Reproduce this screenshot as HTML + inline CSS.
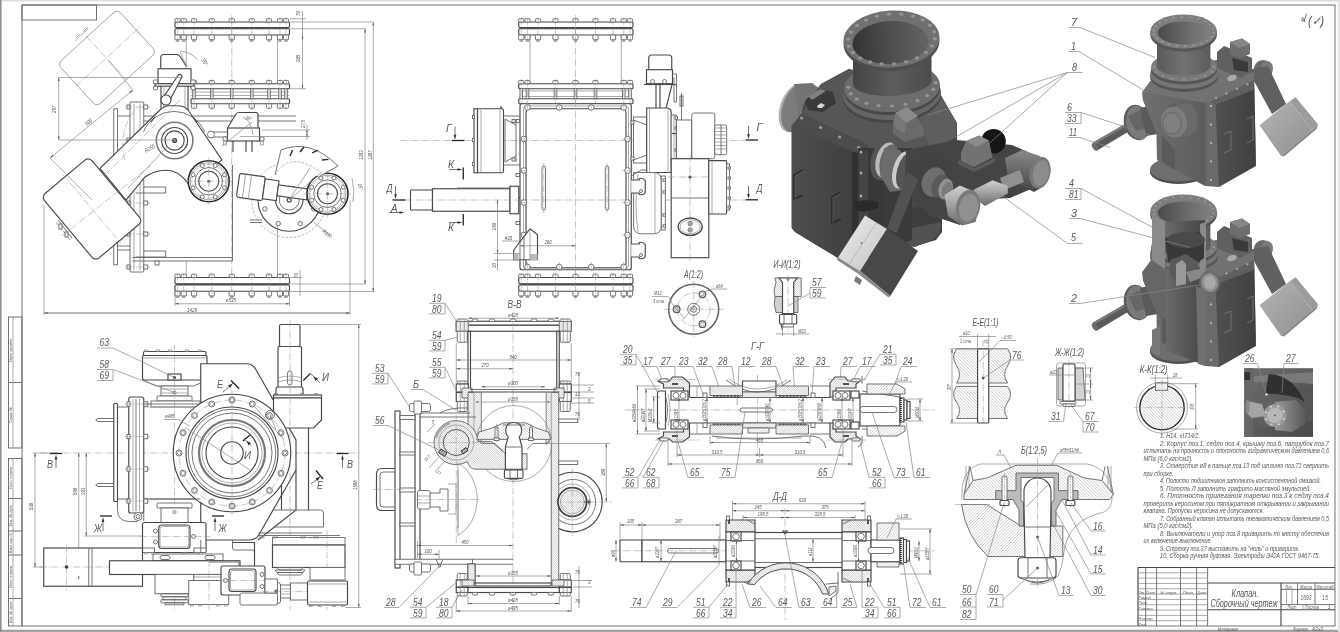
<!DOCTYPE html>
<html lang="ru"><head><meta charset="utf-8"><title>Клапан. Сборочный чертеж</title>
<style>
html,body{margin:0;padding:0;background:#fff}
svg{display:block;will-change:transform}
.k{stroke:#484848;stroke-width:1.15;fill:none}
.m{stroke:#646464;stroke-width:.9;fill:none}
.t{stroke:#868686;stroke-width:.7;fill:none}
.c{stroke:#969696;stroke-width:.55;fill:none;stroke-dasharray:7 1.5 1 1.5}
.d{stroke:#8a8a8a;stroke-width:.6;fill:none;stroke-dasharray:2.5 1.5}
.kw{stroke:#484848;stroke-width:1.15;fill:#fff}
.mw{stroke:#646464;stroke-width:.9;fill:#fff}
.tw{stroke:#868686;stroke-width:.7;fill:#fff}
.kh{stroke:#484848;stroke-width:1.15}
.mh{stroke:#646464;stroke-width:.9}
.th{stroke:#868686;stroke-width:.7}
.nh{stroke:none}
.tx{font-family:"Liberation Sans",sans-serif;font-style:italic;fill:#585858}
.tn{font-family:"Liberation Sans",sans-serif;font-style:italic;fill:#555}
.ts{font-family:"Liberation Sans",sans-serif;font-style:italic;fill:#555}
</style></head>
<body>
<svg width="1340" height="632" viewBox="0 0 1340 632">
<defs>
<pattern id="h1" width="2.2" height="2.2" patternUnits="userSpaceOnUse" patternTransform="rotate(45)"><rect width="2.2" height="2.2" fill="#fff"/><path d="M0 0H2.2" stroke="#888" stroke-width=".6"/></pattern>
<pattern id="h2" width="2.2" height="2.2" patternUnits="userSpaceOnUse" patternTransform="rotate(-45)"><rect width="2.2" height="2.2" fill="#fff"/><path d="M0 0H2.2" stroke="#888" stroke-width=".6"/></pattern>
<pattern id="h3" width="1.6" height="1.6" patternUnits="userSpaceOnUse" patternTransform="rotate(45)"><rect width="1.6" height="1.6" fill="#fff"/><path d="M0 0H1.6" stroke="#888" stroke-width=".6"/></pattern>
<pattern id="h4" width="1.6" height="1.6" patternUnits="userSpaceOnUse" patternTransform="rotate(-45)"><rect width="1.6" height="1.6" fill="#fff"/><path d="M0 0H1.6" stroke="#888" stroke-width=".6"/></pattern>
</defs>
<rect width="1340" height="632" fill="#fff"/>
<g id="p01_frame">
<rect x="0" y="0" width="1340" height="1.5" fill="#ddd"/>
<rect x="0" y="629.7" width="1340" height="2.3" fill="#a4a4a4"/>
<rect x="0" y="0" width="1.6" height="632" fill="#909090"/>
<rect x="1338" y="0" width="2" height="632" fill="#e4e4e4"/>
<rect class="m" x="22" y="5" width="1313" height="621"/>
<rect class="m" x="22" y="5" width="74.5" height="15"/>
<path class="k" d="M1138 567.5L1335 567.5"/>
<path class="k" d="M1138 567.5L1138 626"/>
<path class="m" d="M1145.7 567.5L1145.7 626"/>
<path class="m" d="M1156.6 567.5L1156.6 626"/>
<path class="m" d="M1180.5 567.5L1180.5 626"/>
<path class="m" d="M1196.6 567.5L1196.6 626"/>
<path class="m" d="M1207.6 567.5L1207.6 626"/>
<path class="t" d="M1138 572.82L1207.6 572.82"/>
<path class="t" d="M1138 578.14L1207.6 578.14"/>
<path class="t" d="M1138 583.46L1207.6 583.46"/>
<path class="t" d="M1138 588.78L1207.6 588.78"/>
<path class="t" d="M1138 594.1L1207.6 594.1"/>
<path class="t" d="M1138 599.42L1207.6 599.42"/>
<path class="t" d="M1138 604.74L1207.6 604.74"/>
<path class="t" d="M1138 610.06L1207.6 610.06"/>
<path class="t" d="M1138 615.38L1207.6 615.38"/>
<path class="t" d="M1138 620.7L1207.6 620.7"/>
<path class="k" d="M1207.6 583L1335 583"/>
<path class="k" d="M1207.6 609.7L1335 609.7"/>
<path class="k" d="M1281 583L1281 626"/>
<path class="m" d="M1281 589.4L1335 589.4"/>
<path class="m" d="M1281 604.6L1335 604.6"/>
<path class="m" d="M1297.6 583L1297.6 604.6"/>
<path class="m" d="M1315 583L1315 604.6"/>
<path class="t" d="M1286.5 589.4L1286.5 604.6"/>
<path class="t" d="M1292 589.4L1292 604.6"/>
<path class="t" d="M1303 604.6L1303 609.7"/>
<text class="tn" x="1245" y="597" font-size="10.5" text-anchor="middle" textLength="27" lengthAdjust="spacingAndGlyphs">Клапан.</text>
<text class="tn" x="1244" y="607" font-size="10.5" text-anchor="middle" textLength="67" lengthAdjust="spacingAndGlyphs">Сборочный чертеж</text>
<text class="ts" x="1289" y="588.5" font-size="4.5" text-anchor="middle" textLength="8" lengthAdjust="spacingAndGlyphs">Лит.</text>
<text class="ts" x="1306" y="588.5" font-size="4.5" text-anchor="middle" textLength="12" lengthAdjust="spacingAndGlyphs">Масса</text>
<text class="ts" x="1325" y="588.5" font-size="4.5" text-anchor="middle" textLength="17" lengthAdjust="spacingAndGlyphs">Масштаб</text>
<text class="tx" x="1306" y="600" font-size="6.5" text-anchor="middle" textLength="11" lengthAdjust="spacingAndGlyphs">1693</text>
<text class="tx" x="1325" y="600" font-size="6.5" text-anchor="middle" textLength="6" lengthAdjust="spacingAndGlyphs">1:5</text>
<text class="ts" x="1292" y="609" font-size="4.5" text-anchor="middle" textLength="9" lengthAdjust="spacingAndGlyphs">Лист</text>
<text class="ts" x="1312" y="609" font-size="4.5" text-anchor="middle" textLength="14" lengthAdjust="spacingAndGlyphs">Листов</text>
<text class="ts" x="1329" y="609" font-size="6.08" text-anchor="middle" textLength="2.7" lengthAdjust="spacingAndGlyphs">1</text>
<text class="ts" x="1138.5" y="593.5" font-size="4" textLength="6.5" lengthAdjust="spacingAndGlyphs">Изм.</text>
<text class="ts" x="1146" y="593.5" font-size="4" textLength="9" lengthAdjust="spacingAndGlyphs">Лист</text>
<text class="ts" x="1160" y="593.5" font-size="4" textLength="17" lengthAdjust="spacingAndGlyphs">№ докум.</text>
<text class="ts" x="1183" y="593.5" font-size="4" textLength="11" lengthAdjust="spacingAndGlyphs">Подп.</text>
<text class="ts" x="1197.5" y="593.5" font-size="4" textLength="9" lengthAdjust="spacingAndGlyphs">Дата</text>
<text class="ts" x="1138.5" y="599" font-size="4" textLength="13" lengthAdjust="spacingAndGlyphs">Разраб.</text>
<text class="ts" x="1138.5" y="604.3" font-size="4" textLength="9" lengthAdjust="spacingAndGlyphs">Пров.</text>
<text class="ts" x="1138.5" y="609.6" font-size="4" textLength="15" lengthAdjust="spacingAndGlyphs">Т.контр.</text>
<text class="ts" x="1138.5" y="620.2" font-size="4" textLength="15" lengthAdjust="spacingAndGlyphs">Н.контр.</text>
<text class="ts" x="1138.5" y="625.5" font-size="4" textLength="8" lengthAdjust="spacingAndGlyphs">Утв.</text>
<text class="ts" x="1218" y="631" font-size="4.5" textLength="20" lengthAdjust="spacingAndGlyphs">Копировал</text>
<text class="ts" x="1293" y="631" font-size="4.5" textLength="15" lengthAdjust="spacingAndGlyphs">Формат</text>
<text class="ts" x="1312" y="631" font-size="4.5" textLength="11" lengthAdjust="spacingAndGlyphs">А2х3</text>
<rect class="m" x="8.5" y="317" width="13.5" height="131"/>
<path class="t" d="M13 317L13 448"/>
<path class="m" d="M8.5 382.5L22 382.5"/>
<rect class="m" x="8.5" y="458.5" width="13.5" height="167.5"/>
<path class="t" d="M13 458.5L13 626"/>
<path class="m" d="M8.5 498.5L22 498.5"/>
<path class="m" d="M8.5 531L22 531"/>
<path class="m" d="M8.5 555L22 555"/>
<path class="m" d="M8.5 598.5L22 598.5"/>
<text class="ts" x="12" y="350" font-size="4" text-anchor="middle" transform="rotate(-90 12 350)" textLength="24" lengthAdjust="spacingAndGlyphs">Перв. примен.</text>
<text class="ts" x="12" y="415" font-size="4" text-anchor="middle" transform="rotate(-90 12 415)" textLength="16" lengthAdjust="spacingAndGlyphs">Справ. №</text>
<text class="ts" x="12" y="478" font-size="4" text-anchor="middle" transform="rotate(-90 12 478)" textLength="22" lengthAdjust="spacingAndGlyphs">Подп. и дата</text>
<text class="ts" x="12" y="515" font-size="4" text-anchor="middle" transform="rotate(-90 12 515)" textLength="22" lengthAdjust="spacingAndGlyphs">Инв. № дубл.</text>
<text class="ts" x="12" y="543" font-size="4" text-anchor="middle" transform="rotate(-90 12 543)" textLength="20" lengthAdjust="spacingAndGlyphs">Взам. инв. №</text>
<text class="ts" x="12" y="577" font-size="4" text-anchor="middle" transform="rotate(-90 12 577)" textLength="22" lengthAdjust="spacingAndGlyphs">Подп. и дата</text>
<text class="ts" x="12" y="612" font-size="4" text-anchor="middle" transform="rotate(-90 12 612)" textLength="22" lengthAdjust="spacingAndGlyphs">Инв. № подл.</text>
</g>
<g id="p10_isobig">
<defs>
<linearGradient id="gb" x1="0" x2="1" y1="0" y2="0"><stop offset="0" stop-color="#333"/><stop offset=".5" stop-color="#4e4e4e"/><stop offset="1" stop-color="#646464"/></linearGradient>
<linearGradient id="gp" x1="0" x2="1" y1="0" y2="0"><stop offset="0" stop-color="#444"/><stop offset=".5" stop-color="#5c5c5c"/><stop offset="1" stop-color="#4c4c4c"/></linearGradient>
<linearGradient id="gcv" x1="0" x2="1" y1="0" y2="0"><stop offset="0" stop-color="#4e4e4e"/><stop offset="1" stop-color="#3e3e3e"/></linearGradient>
<linearGradient id="gw" x1="0" x2="1" y1="0" y2="1"><stop offset="0" stop-color="#ececec"/><stop offset="1" stop-color="#c4c4c4"/></linearGradient>
<linearGradient id="gl" x1="0" x2="0" y1="0" y2="1"><stop offset="0" stop-color="#d0d0d0"/><stop offset=".5" stop-color="#a0a0a0"/><stop offset="1" stop-color="#6a6a6a"/></linearGradient>
<linearGradient id="gd" x1="0" x2="0" y1="0" y2="1"><stop offset="0" stop-color="#8a8a8a"/><stop offset=".5" stop-color="#666"/><stop offset="1" stop-color="#444"/></linearGradient>
</defs>
<ellipse class="n" cx="794" cy="108" rx="14" ry="25" transform="rotate(18 794 108)" fill="#b0b0b0"/>
<ellipse class="n" cx="796.5" cy="108" rx="14" ry="25" transform="rotate(18 796.5 108)" fill="#7c7c7c"/>
<path d="M794 84L812 83L830 96L832 116L808 134L800 133Z" fill="#747474"/>
<ellipse class="n" cx="816" cy="109" rx="13" ry="19" transform="rotate(22 816 109)" fill="#4a4a4a"/>
<ellipse class="n" cx="821" cy="111" rx="10" ry="13" transform="rotate(22 821 111)" fill="#2e2e2e"/>
<path d="M817 109L823 105L829 107L824 113L819 114Z" fill="#ddd"/>
<path d="M890 200L942 195L942 232L936 240L915 246L900 244L890 236Z" fill="#3e3e3e"/>
<ellipse class="n" cx="917" cy="236" rx="24" ry="9" transform="rotate(-12 917 236)" fill="#4a4a4a"/>
<path d="M893 232L941 222L941 228L932 240L915 247L900 245L893 238Z" fill="#525252"/>
<path d="M941 96L957 123L957 200L900 210L880 150Z" fill="#464646"/>
<path d="M820.6 84L849 68.7L941 95.6L956.7 123.3L956 137L930 152L865 148.6L792 126.5L801.6 113.8Z" fill="#565656"/>
<path d="M941 95.6L956.7 123.3L956 137L930 150L920 118Z" fill="#5e5e5e"/>
<path d="M805 101L819 89L833 92L836 103L823 112L808 110Z" fill="#3a3a3a"/>
<path d="M808 96L820 89L826 91L812 100Z" fill="#808080"/>
<path d="M817 106L821 103L825 105L822 108L818 108Z" fill="#d8d8d8"/>
<path d="M791.5 126L801.6 113.5L868.5 145L868 240L858 262L838 258L795 232L791.5 228Z" fill="#484848"/>
<path d="M792 126.5L801.6 113.8L868 145.4L858.6 153.4Z" fill="#4c4c4c"/>
<ellipse class="n" cx="801.6" cy="118" rx="1.7" ry="1.5" fill="#999"/>
<ellipse class="n" cx="820.6" cy="127.5" rx="1.7" ry="1.5" fill="#999"/>
<ellipse class="n" cx="839.6" cy="137" rx="1.7" ry="1.5" fill="#999"/>
<ellipse class="n" cx="858.6" cy="147.5" rx="1.7" ry="1.5" fill="#999"/>
<path d="M858 148L912 148L912 240L858 262Z" fill="#3a3a3a"/>
<path d="M792 126.5L858.6 153.4L858 262L838 258L795 232L792 228Z" fill="url(#gcv)"/>
<path d="M852 152L858.6 153L858.6 262L852 258Z" fill="#303030"/>
<path d="M858.6 153L868 150L868 240L858.6 262Z" fill="#444"/>
<path d="M868 150L884 150L884 225L868 240Z" fill="#383838"/>
<ellipse class="n" cx="861" cy="152" rx="1.4" ry="1.6" fill="#aaa"/>
<ellipse class="n" cx="861" cy="173" rx="1.4" ry="1.6" fill="#aaa"/>
<ellipse class="n" cx="861" cy="196" rx="1.4" ry="1.6" fill="#aaa"/>
<path class="n" d="M803 170l-9 5v24l9 -4" fill="none" stroke="#2c2c2c" stroke-width="1.8"/>
<path class="n" d="M804 171l-9 5v24" fill="none" stroke="#666" stroke-width=".6"/>
<path class="n" d="M841 192l-9 5v26l9 -4" fill="none" stroke="#2c2c2c" stroke-width="1.8"/>
<path class="n" d="M842 193l-9 5v26" fill="none" stroke="#666" stroke-width=".6"/>
<path d="M854 202L866 200L878 202L878 208L864 212L854 210Z" fill="#2a2a2a"/>
<ellipse class="n" cx="892" cy="97" rx="49" ry="26" transform="rotate(-3 892 97)" fill="#484848"/>
<ellipse class="n" cx="892" cy="94" rx="49" ry="26" transform="rotate(-3 892 94)" fill="#666"/>
<ellipse class="n" cx="892" cy="90" rx="48" ry="25" transform="rotate(-3 892 90)" fill="#484848"/>
<ellipse class="n" cx="892" cy="87" rx="48" ry="25" transform="rotate(-3 892 87)" fill="#6c6c6c"/>
<path class="n" d="M853 44L853 84A39.5 14 -3 0 0 931.5 82L931.5 40Z" fill="url(#gp)"/>
<ellipse class="n" cx="891.5" cy="42.5" rx="48" ry="28.5" transform="rotate(-3 891.5 42.5)" fill="#4e4e4e"/>
<ellipse class="n" cx="891.5" cy="39" rx="48" ry="28.5" transform="rotate(-3 891.5 39)" fill="#707070"/>
<ellipse class="n" cx="890.5" cy="42.5" rx="38" ry="21.5" transform="rotate(-3 890.5 42.5)" fill="url(#gb)"/>
<ellipse class="n" cx="934.834" cy="38.8876" rx="2.1" ry="1.6" fill="#959595"/>
<ellipse class="n" cx="932.011" cy="45.9652" rx="2.1" ry="1.6" fill="#959595"/>
<ellipse class="n" cx="925.906" cy="52.4784" rx="2.1" ry="1.6" fill="#959595"/>
<ellipse class="n" cx="917.013" cy="57.8998" rx="2.1" ry="1.6" fill="#959595"/>
<ellipse class="n" cx="906.053" cy="61.7899" rx="2.1" ry="1.6" fill="#959595"/>
<ellipse class="n" cx="893.914" cy="63.8338" rx="2.1" ry="1.6" fill="#959595"/>
<ellipse class="n" cx="881.58" cy="63.8658" rx="2.1" ry="1.6" fill="#959595"/>
<ellipse class="n" cx="870.05" cy="61.8833" rx="2.1" ry="1.6" fill="#959595"/>
<ellipse class="n" cx="860.257" cy="58.0469" rx="2.1" ry="1.6" fill="#959595"/>
<ellipse class="n" cx="852.995" cy="52.6675" rx="2.1" ry="1.6" fill="#959595"/>
<ellipse class="n" cx="848.853" cy="46.1808" rx="2.1" ry="1.6" fill="#959595"/>
<ellipse class="n" cx="848.166" cy="39.1124" rx="2.1" ry="1.6" fill="#959595"/>
<ellipse class="n" cx="850.989" cy="32.0348" rx="2.1" ry="1.6" fill="#959595"/>
<ellipse class="n" cx="857.094" cy="25.5216" rx="2.1" ry="1.6" fill="#959595"/>
<ellipse class="n" cx="865.987" cy="20.1002" rx="2.1" ry="1.6" fill="#959595"/>
<ellipse class="n" cx="876.947" cy="16.2101" rx="2.1" ry="1.6" fill="#959595"/>
<ellipse class="n" cx="889.086" cy="14.1662" rx="2.1" ry="1.6" fill="#959595"/>
<ellipse class="n" cx="901.42" cy="14.1342" rx="2.1" ry="1.6" fill="#959595"/>
<ellipse class="n" cx="912.95" cy="16.1167" rx="2.1" ry="1.6" fill="#959595"/>
<ellipse class="n" cx="922.743" cy="19.9531" rx="2.1" ry="1.6" fill="#959595"/>
<ellipse class="n" cx="930.005" cy="25.3325" rx="2.1" ry="1.6" fill="#959595"/>
<ellipse class="n" cx="934.147" cy="31.8192" rx="2.1" ry="1.6" fill="#959595"/>
<ellipse class="n" cx="935.5" cy="82.7" rx="2.1" ry="1.6" fill="#959595"/>
<ellipse class="n" cx="933.371" cy="89.3019" rx="2.1" ry="1.6" fill="#959595"/>
<ellipse class="n" cx="927.192" cy="95.4828" rx="2.1" ry="1.6" fill="#959595"/>
<ellipse class="n" cx="917.569" cy="100.637" rx="2.1" ry="1.6" fill="#959595"/>
<ellipse class="n" cx="905.442" cy="104.261" rx="2.1" ry="1.6" fill="#959595"/>
<ellipse class="n" cx="892" cy="106" rx="2.1" ry="1.6" fill="#959595"/>
<ellipse class="n" cx="878.558" cy="105.683" rx="2.1" ry="1.6" fill="#959595"/>
<ellipse class="n" cx="866.431" cy="103.341" rx="2.1" ry="1.6" fill="#959595"/>
<ellipse class="n" cx="856.808" cy="99.2042" rx="2.1" ry="1.6" fill="#959595"/>
<ellipse class="n" cx="850.629" cy="93.6768" rx="2.1" ry="1.6" fill="#959595"/>
<ellipse class="n" cx="848.5" cy="87.3" rx="2.1" ry="1.6" fill="#959595"/>
<path d="M893 118L906 108L916 116L924 128L924 136L905 142L893 134Z" fill="#6a6a6a"/>
<path d="M895 113L907 107L918 116L906 123Z" fill="#8a8a8a"/>
<path d="M895 113L906 123L905 134L894 127Z" fill="#777"/>
<ellipse class="n" cx="884" cy="160" rx="13" ry="21" transform="rotate(15 884 160)" fill="#555"/>
<ellipse class="n" cx="886" cy="160" rx="10" ry="18" transform="rotate(15 886 160)" fill="#bbb"/>
<ellipse class="n" cx="889" cy="161" rx="9" ry="17" transform="rotate(15 889 161)" fill="#666"/>
<path d="M884 148L900 150L906 160L904 190L890 192L880 175Z" fill="#6c6c6c"/>
<ellipse class="n" cx="902" cy="170" rx="9" ry="19" transform="rotate(15 902 170)" fill="#ccc"/>
<ellipse class="n" cx="905" cy="171" rx="8" ry="18" transform="rotate(15 905 171)" fill="#555"/>
<path d="M906 150L956 140L1012 145L1028 152L1040 160L1040 185L1010 198L975 200L960 225L930 215L905 190Z" fill="#444"/>
<ellipse class="n" cx="993.5" cy="141.3" rx="12.3" ry="12.3" fill="#151515"/>
<path d="M966 141L979 135.6L988.8 140.4L992.6 157.5L973.6 167L961 161L961 152.7Z" fill="#727272"/>
<path d="M966 141L979 135.6L988.8 140.4L976 147Z" fill="#8c8c8c"/>
<path d="M958 160L974 168L995 158L995 162L974 172L958 164Z" fill="#5a5a5a"/>
<path d="M1005 158L1022 150L1040 156L1047 168L1044 186L1034 192L1020 185L1008 178Z" fill="url(#gd)"/>
<ellipse class="n" cx="1040" cy="172.7" rx="10.4" ry="16" transform="rotate(12 1040 172.7)" fill="#777"/>
<ellipse class="n" cx="1041" cy="173" rx="8" ry="13" transform="rotate(12 1041 173)" fill="#8c8c8c"/>
<path d="M1000 178L1020 170L1024 182L1004 190Z" fill="#909090"/>
<path d="M973.6 189.8L992.6 180.3L1007.8 186L1007.8 193.6L985 206L975.5 199Z" fill="url(#gl)"/>
<ellipse class="n" cx="931.4" cy="175" rx="21" ry="22" fill="#424242"/>
<ellipse class="n" cx="934" cy="182" rx="12" ry="15" transform="rotate(20 934 182)" fill="#6e6e6e"/>
<ellipse class="n" cx="940" cy="186" rx="8" ry="12" transform="rotate(20 940 186)" fill="#5a5a5a"/>
<ellipse class="n" cx="945.6" cy="189" rx="7" ry="10.7" transform="rotate(15 945.6 189)" fill="#929292"/>
<ellipse class="n" cx="947" cy="190" rx="5" ry="8" transform="rotate(15 947 190)" fill="#7a7a7a"/>
<path d="M907.6 172L918 180L896.6 233L887 228.6Z" fill="#525252"/>
<path d="M944.4 195L959.8 185.4L975 192L979 204L975.7 222L962 225.4L948 216Z" fill="url(#gl)"/>
<ellipse class="n" cx="968" cy="207" rx="12" ry="17.5" transform="rotate(12 968 207)" fill="#7a7a7a"/>
<ellipse class="n" cx="968.5" cy="207.5" rx="9.5" ry="14" transform="rotate(12 968.5 207.5)" fill="#909090"/>
<path d="M865 215.5L887 229L860 271L838 257.5Z" fill="url(#gw)"/>
<path d="M887 229L918 251L890.3 296L860 271Z" fill="#484848"/>
<path d="M838 257.5L860 271L890.3 296L888.5 297.5L858.5 274L837 260Z" fill="#8a8a8a"/>
<path class="n" d="M876.5 222.5L849 264.5"/>
<path d="M876.5 222.5L849 264.5" stroke="#999" stroke-width=".5"/>
<ellipse class="n" cx="861.5" cy="243" rx="0.8" ry="0.8" fill="#444"/>
<path d="M856 276L862 280L860 285L854 281Z" fill="#777"/>
</g>
<g id="p11_isosmall">
<defs>
<linearGradient id="sb" x1="0" x2="1" y1="0" y2="0"><stop offset="0" stop-color="#4a4a4a"/><stop offset=".6" stop-color="#6c6c6c"/><stop offset="1" stop-color="#808080"/></linearGradient>
<linearGradient id="sp" x1="0" x2="1" y1="0" y2="0"><stop offset="0" stop-color="#5a5a5a"/><stop offset=".5" stop-color="#727272"/><stop offset="1" stop-color="#5c5c5c"/></linearGradient>
<linearGradient id="sw" x1="0" x2="1" y1="0" y2="1"><stop offset="0" stop-color="#b4b4b4"/><stop offset="1" stop-color="#909090"/></linearGradient>
<linearGradient id="sc" x1="0" x2="1" y1="0" y2="0"><stop offset="0" stop-color="#505050"/><stop offset="1" stop-color="#404040"/></linearGradient>
<linearGradient id="sl" x1="0" x2="1" y1="0" y2="0"><stop offset="0" stop-color="#707070"/><stop offset="1" stop-color="#5c5c5c"/></linearGradient>
<linearGradient id="si" x1="0" x2="1" y1="0" y2="0"><stop offset="0" stop-color="#6a6a6a"/><stop offset="1" stop-color="#444"/></linearGradient>
</defs>
<g transform="translate(0 0)">
<ellipse class="n" cx="1263" cy="70" rx="9.5" ry="10" fill="#6a6a6a"/>
<ellipse class="n" cx="1267" cy="68" rx="6" ry="7" fill="#7a7a7a"/>
<path d="M1248 70L1268 66L1286 104L1272 114Z" fill="#606060"/>
<path d="M1259.5 125.2L1290 101L1312 130L1281 155.8Z" fill="url(#sw)"/>
<path d="M1290 101L1295.6 97.2L1318 124.3L1312 130Z" fill="#9c9c9c"/>
<path d="M1312 130L1318 124.3L1316.5 129L1284 156.5L1281 155.8Z" fill="#888"/>
<path d="M1093 142.5L1133 119.5L1137 126.5L1097 150.5Z" fill="#5a5a5a"/>
<path d="M1093 142.5L1133 119.5L1134 121.5L1094 144.5Z" fill="#7c7c7c"/>
<ellipse class="n" cx="1095" cy="146.8" rx="2.6" ry="4.4" transform="rotate(-30 1095 146.8)" fill="#6c6c6c"/>
<ellipse class="n" cx="1137" cy="122.5" rx="13" ry="18" transform="rotate(-12 1137 122.5)" fill="#5c5c5c"/>
<ellipse class="n" cx="1138.5" cy="122.5" rx="12" ry="17" transform="rotate(-12 1138.5 122.5)" fill="#7a7a7a"/>
<path d="M1128 116L1140 110L1146 118L1146 128L1136 132Z" fill="#666"/>
<path d="M1140 108L1158 104L1158 134L1146 136Z" fill="#5a5a5a"/>
<ellipse class="n" cx="1178.4" cy="172" rx="28.5" ry="12" fill="#505050"/>
<ellipse class="n" cx="1178.4" cy="169.5" rx="28.5" ry="12" fill="#6e6e6e"/>
<path d="M1142.3 92L1160 68L1217 60L1254 72L1256 166L1219 187L1205 186L1157 160L1156.7 133L1143 100Z" fill="#666"/>
<path d="M1142.3 92L1206 102L1206 186L1157 160L1156.7 133L1143 100Z" fill="url(#sl)"/>
<path d="M1162 135L1175 150L1175 170L1162 162Z" fill="#5a5a5a"/>
<path d="M1142.3 92L1160 69L1217 61L1254 72L1254 80.6L1208 103.5Z" fill="#727272"/>
<path d="M1207 103.5L1254 80L1254.5 90.5L1216 105L1205 104.5Z" fill="#606060"/>
<path d="M1205.4 100.8L1216 104.4L1219 186.5L1205.4 185.6Z" fill="#6a6a6a"/>
<path d="M1215.5 104.4L1254.3 89.8L1255.9 165.7L1219 186.5Z" fill="url(#sc)"/>
<path class="n" d="M1224 134l7 -3v19l-7 3" fill="none" stroke="#777" stroke-width=".9"/>
<path class="n" d="M1247 119l6 -3v24l-6 3" fill="none" stroke="#777" stroke-width=".9"/>
<ellipse class="n" cx="1211" cy="106" rx="1.1" ry="1.2" fill="#b0b0b0"/>
<ellipse class="n" cx="1211" cy="124.5" rx="1.1" ry="1.2" fill="#b0b0b0"/>
<ellipse class="n" cx="1211" cy="143" rx="1.1" ry="1.2" fill="#b0b0b0"/>
<ellipse class="n" cx="1211" cy="161.5" rx="1.1" ry="1.2" fill="#b0b0b0"/>
<ellipse class="n" cx="1211" cy="180" rx="1.1" ry="1.2" fill="#b0b0b0"/>
<ellipse class="n" cx="1216" cy="98" rx="1.1" ry="1" fill="#b0b0b0"/>
<ellipse class="n" cx="1226.5" cy="93.4" rx="1.1" ry="1" fill="#b0b0b0"/>
<ellipse class="n" cx="1237" cy="88.8" rx="1.1" ry="1" fill="#b0b0b0"/>
<ellipse class="n" cx="1247.5" cy="84.2" rx="1.1" ry="1" fill="#b0b0b0"/>
<path d="M1217 52L1224 46L1234 50L1252 58L1252 72L1240 78L1217 68Z" fill="#606060"/>
<path d="M1230 42L1242 38.5L1250 44L1250 54L1240 58L1230 54Z" fill="#6e6e6e"/>
<path d="M1230 42L1242 38.5L1250 44L1239 48Z" fill="#868686"/>
<path d="M1232 58L1248 62L1248 72L1234 70Z" fill="#3a3a3a"/>
<ellipse class="n" cx="1232" cy="78" rx="5" ry="3" transform="rotate(-20 1232 78)" fill="#aaa"/>
<ellipse class="n" cx="1184" cy="77" rx="34" ry="15" fill="#555"/>
<ellipse class="n" cx="1184" cy="74" rx="34" ry="15" fill="#757575"/>
<ellipse class="n" cx="1184" cy="70" rx="33" ry="14.5" fill="#555"/>
<ellipse class="n" cx="1184" cy="67" rx="33" ry="14.5" fill="#7a7a7a"/>
<path class="n" d="M1157 32V66A26.7 10 0 0 0 1210.4 66V32Z" fill="url(#sp)"/>
<ellipse class="n" cx="1183.6" cy="34.5" rx="33.4" ry="17" fill="#555"/>
<ellipse class="n" cx="1183.6" cy="31.5" rx="33.4" ry="17" fill="#7e7e7e"/>
<ellipse class="n" cx="1184" cy="32.9" rx="26.3" ry="11.5" fill="url(#sb)"/>
<ellipse class="n" cx="1213.49" cy="32.7725" rx="1.2" ry="0.9" fill="#9c9c9c"/>
<ellipse class="n" cx="1211.54" cy="36.8186" rx="1.2" ry="0.9" fill="#9c9c9c"/>
<ellipse class="n" cx="1207.33" cy="40.4338" rx="1.2" ry="0.9" fill="#9c9c9c"/>
<ellipse class="n" cx="1201.2" cy="43.3252" rx="1.2" ry="0.9" fill="#9c9c9c"/>
<ellipse class="n" cx="1193.64" cy="45.2587" rx="1.2" ry="0.9" fill="#9c9c9c"/>
<ellipse class="n" cx="1185.27" cy="46.0775" rx="1.2" ry="0.9" fill="#9c9c9c"/>
<ellipse class="n" cx="1176.76" cy="45.7153" rx="1.2" ry="0.9" fill="#9c9c9c"/>
<ellipse class="n" cx="1168.81" cy="44.2015" rx="1.2" ry="0.9" fill="#9c9c9c"/>
<ellipse class="n" cx="1162.05" cy="41.6587" rx="1.2" ry="0.9" fill="#9c9c9c"/>
<ellipse class="n" cx="1157.04" cy="38.2928" rx="1.2" ry="0.9" fill="#9c9c9c"/>
<ellipse class="n" cx="1154.19" cy="34.3767" rx="1.2" ry="0.9" fill="#9c9c9c"/>
<ellipse class="n" cx="1153.71" cy="30.2275" rx="1.2" ry="0.9" fill="#9c9c9c"/>
<ellipse class="n" cx="1155.66" cy="26.1814" rx="1.2" ry="0.9" fill="#9c9c9c"/>
<ellipse class="n" cx="1159.87" cy="22.5662" rx="1.2" ry="0.9" fill="#9c9c9c"/>
<ellipse class="n" cx="1166" cy="19.6748" rx="1.2" ry="0.9" fill="#9c9c9c"/>
<ellipse class="n" cx="1173.56" cy="17.7413" rx="1.2" ry="0.9" fill="#9c9c9c"/>
<ellipse class="n" cx="1181.93" cy="16.9225" rx="1.2" ry="0.9" fill="#9c9c9c"/>
<ellipse class="n" cx="1190.44" cy="17.2847" rx="1.2" ry="0.9" fill="#9c9c9c"/>
<ellipse class="n" cx="1198.39" cy="18.7985" rx="1.2" ry="0.9" fill="#9c9c9c"/>
<ellipse class="n" cx="1205.15" cy="21.3413" rx="1.2" ry="0.9" fill="#9c9c9c"/>
<ellipse class="n" cx="1210.16" cy="24.7072" rx="1.2" ry="0.9" fill="#9c9c9c"/>
<ellipse class="n" cx="1213.01" cy="28.6233" rx="1.2" ry="0.9" fill="#9c9c9c"/>
<ellipse class="n" cx="1214" cy="67" rx="1.2" ry="0.9" fill="#9c9c9c"/>
<ellipse class="n" cx="1211.72" cy="71.7835" rx="1.2" ry="0.9" fill="#9c9c9c"/>
<ellipse class="n" cx="1205.21" cy="75.8388" rx="1.2" ry="0.9" fill="#9c9c9c"/>
<ellipse class="n" cx="1195.48" cy="78.5485" rx="1.2" ry="0.9" fill="#9c9c9c"/>
<ellipse class="n" cx="1184" cy="79.5" rx="1.2" ry="0.9" fill="#9c9c9c"/>
<ellipse class="n" cx="1172.52" cy="78.5485" rx="1.2" ry="0.9" fill="#9c9c9c"/>
<ellipse class="n" cx="1162.79" cy="75.8388" rx="1.2" ry="0.9" fill="#9c9c9c"/>
<ellipse class="n" cx="1156.28" cy="71.7835" rx="1.2" ry="0.9" fill="#9c9c9c"/>
<ellipse class="n" cx="1154" cy="67" rx="1.2" ry="0.9" fill="#9c9c9c"/>
<ellipse class="n" cx="1176" cy="121" rx="14" ry="16.5" transform="rotate(-10 1176 121)" fill="#5c5c5c"/>
<path d="M1176 105L1190 103L1197 112L1197 130L1188 137L1176 137Z" fill="#6a6a6a"/>
<ellipse class="n" cx="1174" cy="122" rx="13" ry="15.5" transform="rotate(-10 1174 122)" fill="#7c7c7c"/>
<ellipse class="n" cx="1172" cy="123.4" rx="10" ry="11.5" transform="rotate(-10 1172 123.4)" fill="#6e6e6e"/>
<ellipse class="n" cx="1172" cy="123.4" rx="8.5" ry="10" transform="rotate(-10 1172 123.4)" fill="#808080"/>
</g>
<g transform="translate(0 180)">
<ellipse class="n" cx="1263" cy="70" rx="9.5" ry="10" fill="#6a6a6a"/>
<ellipse class="n" cx="1267" cy="68" rx="6" ry="7" fill="#7a7a7a"/>
<path d="M1248 70L1268 66L1286 104L1272 114Z" fill="#606060"/>
<path d="M1259.5 125.2L1290 101L1312 130L1281 155.8Z" fill="url(#sw)"/>
<path d="M1290 101L1295.6 97.2L1318 124.3L1312 130Z" fill="#9c9c9c"/>
<path d="M1312 130L1318 124.3L1316.5 129L1284 156.5L1281 155.8Z" fill="#888"/>
<path d="M1093 142.5L1133 119.5L1137 126.5L1097 150.5Z" fill="#5a5a5a"/>
<path d="M1093 142.5L1133 119.5L1134 121.5L1094 144.5Z" fill="#7c7c7c"/>
<ellipse class="n" cx="1095" cy="146.8" rx="2.6" ry="4.4" transform="rotate(-30 1095 146.8)" fill="#6c6c6c"/>
<ellipse class="n" cx="1137" cy="122.5" rx="13" ry="18" transform="rotate(-12 1137 122.5)" fill="#5c5c5c"/>
<ellipse class="n" cx="1138.5" cy="122.5" rx="12" ry="17" transform="rotate(-12 1138.5 122.5)" fill="#7a7a7a"/>
<path d="M1128 116L1140 110L1146 118L1146 128L1136 132Z" fill="#666"/>
<path d="M1140 108L1158 104L1158 134L1146 136Z" fill="#5a5a5a"/>
<ellipse class="n" cx="1178.4" cy="172" rx="28.5" ry="12" fill="#505050"/>
<ellipse class="n" cx="1178.4" cy="169.5" rx="28.5" ry="12" fill="#6e6e6e"/>
<path d="M1142.3 92L1160 68L1217 60L1254 72L1256 166L1219 187L1205 186L1157 160L1156.7 133L1143 100Z" fill="#666"/>
<path d="M1142.3 92L1206 102L1206 186L1157 160L1156.7 133L1143 100Z" fill="url(#sl)"/>
<path d="M1162 135L1175 150L1175 170L1162 162Z" fill="#5a5a5a"/>
<path d="M1142.3 92L1160 69L1217 61L1254 72L1254 80.6L1208 103.5Z" fill="#727272"/>
<path d="M1207 103.5L1254 80L1254.5 90.5L1216 105L1205 104.5Z" fill="#606060"/>
<path d="M1205.4 100.8L1216 104.4L1219 186.5L1205.4 185.6Z" fill="#6a6a6a"/>
<path d="M1215.5 104.4L1254.3 89.8L1255.9 165.7L1219 186.5Z" fill="url(#sc)"/>
<path class="n" d="M1224 134l7 -3v19l-7 3" fill="none" stroke="#777" stroke-width=".9"/>
<path class="n" d="M1247 119l6 -3v24l-6 3" fill="none" stroke="#777" stroke-width=".9"/>
<ellipse class="n" cx="1211" cy="106" rx="1.1" ry="1.2" fill="#b0b0b0"/>
<ellipse class="n" cx="1211" cy="124.5" rx="1.1" ry="1.2" fill="#b0b0b0"/>
<ellipse class="n" cx="1211" cy="143" rx="1.1" ry="1.2" fill="#b0b0b0"/>
<ellipse class="n" cx="1211" cy="161.5" rx="1.1" ry="1.2" fill="#b0b0b0"/>
<ellipse class="n" cx="1211" cy="180" rx="1.1" ry="1.2" fill="#b0b0b0"/>
<ellipse class="n" cx="1216" cy="98" rx="1.1" ry="1" fill="#b0b0b0"/>
<ellipse class="n" cx="1226.5" cy="93.4" rx="1.1" ry="1" fill="#b0b0b0"/>
<ellipse class="n" cx="1237" cy="88.8" rx="1.1" ry="1" fill="#b0b0b0"/>
<ellipse class="n" cx="1247.5" cy="84.2" rx="1.1" ry="1" fill="#b0b0b0"/>
<path d="M1217 52L1224 46L1234 50L1252 58L1252 72L1240 78L1217 68Z" fill="#606060"/>
<path d="M1230 42L1242 38.5L1250 44L1250 54L1240 58L1230 54Z" fill="#6e6e6e"/>
<path d="M1230 42L1242 38.5L1250 44L1239 48Z" fill="#868686"/>
<path d="M1232 58L1248 62L1248 72L1234 70Z" fill="#3a3a3a"/>
<ellipse class="n" cx="1232" cy="78" rx="5" ry="3" transform="rotate(-20 1232 78)" fill="#aaa"/>
<ellipse class="n" cx="1184" cy="77" rx="34" ry="15" fill="#555"/>
<ellipse class="n" cx="1184" cy="74" rx="34" ry="15" fill="#757575"/>
<ellipse class="n" cx="1184" cy="70" rx="33" ry="14.5" fill="#555"/>
<ellipse class="n" cx="1184" cy="67" rx="33" ry="14.5" fill="#7a7a7a"/>
<path class="n" d="M1157 32V66A26.7 10 0 0 0 1210.4 66V32Z" fill="url(#sp)"/>
<ellipse class="n" cx="1183.6" cy="34.5" rx="33.4" ry="17" fill="#555"/>
<ellipse class="n" cx="1183.6" cy="31.5" rx="33.4" ry="17" fill="#7e7e7e"/>
<ellipse class="n" cx="1184" cy="32.9" rx="26.3" ry="11.5" fill="url(#sb)"/>
<ellipse class="n" cx="1213.49" cy="32.7725" rx="1.2" ry="0.9" fill="#9c9c9c"/>
<ellipse class="n" cx="1211.54" cy="36.8186" rx="1.2" ry="0.9" fill="#9c9c9c"/>
<ellipse class="n" cx="1207.33" cy="40.4338" rx="1.2" ry="0.9" fill="#9c9c9c"/>
<ellipse class="n" cx="1201.2" cy="43.3252" rx="1.2" ry="0.9" fill="#9c9c9c"/>
<ellipse class="n" cx="1193.64" cy="45.2587" rx="1.2" ry="0.9" fill="#9c9c9c"/>
<ellipse class="n" cx="1185.27" cy="46.0775" rx="1.2" ry="0.9" fill="#9c9c9c"/>
<ellipse class="n" cx="1176.76" cy="45.7153" rx="1.2" ry="0.9" fill="#9c9c9c"/>
<ellipse class="n" cx="1168.81" cy="44.2015" rx="1.2" ry="0.9" fill="#9c9c9c"/>
<ellipse class="n" cx="1162.05" cy="41.6587" rx="1.2" ry="0.9" fill="#9c9c9c"/>
<ellipse class="n" cx="1157.04" cy="38.2928" rx="1.2" ry="0.9" fill="#9c9c9c"/>
<ellipse class="n" cx="1154.19" cy="34.3767" rx="1.2" ry="0.9" fill="#9c9c9c"/>
<ellipse class="n" cx="1153.71" cy="30.2275" rx="1.2" ry="0.9" fill="#9c9c9c"/>
<ellipse class="n" cx="1155.66" cy="26.1814" rx="1.2" ry="0.9" fill="#9c9c9c"/>
<ellipse class="n" cx="1159.87" cy="22.5662" rx="1.2" ry="0.9" fill="#9c9c9c"/>
<ellipse class="n" cx="1166" cy="19.6748" rx="1.2" ry="0.9" fill="#9c9c9c"/>
<ellipse class="n" cx="1173.56" cy="17.7413" rx="1.2" ry="0.9" fill="#9c9c9c"/>
<ellipse class="n" cx="1181.93" cy="16.9225" rx="1.2" ry="0.9" fill="#9c9c9c"/>
<ellipse class="n" cx="1190.44" cy="17.2847" rx="1.2" ry="0.9" fill="#9c9c9c"/>
<ellipse class="n" cx="1198.39" cy="18.7985" rx="1.2" ry="0.9" fill="#9c9c9c"/>
<ellipse class="n" cx="1205.15" cy="21.3413" rx="1.2" ry="0.9" fill="#9c9c9c"/>
<ellipse class="n" cx="1210.16" cy="24.7072" rx="1.2" ry="0.9" fill="#9c9c9c"/>
<ellipse class="n" cx="1213.01" cy="28.6233" rx="1.2" ry="0.9" fill="#9c9c9c"/>
<ellipse class="n" cx="1214" cy="67" rx="1.2" ry="0.9" fill="#9c9c9c"/>
<ellipse class="n" cx="1211.72" cy="71.7835" rx="1.2" ry="0.9" fill="#9c9c9c"/>
<ellipse class="n" cx="1205.21" cy="75.8388" rx="1.2" ry="0.9" fill="#9c9c9c"/>
<ellipse class="n" cx="1195.48" cy="78.5485" rx="1.2" ry="0.9" fill="#9c9c9c"/>
<ellipse class="n" cx="1184" cy="79.5" rx="1.2" ry="0.9" fill="#9c9c9c"/>
<ellipse class="n" cx="1172.52" cy="78.5485" rx="1.2" ry="0.9" fill="#9c9c9c"/>
<ellipse class="n" cx="1162.79" cy="75.8388" rx="1.2" ry="0.9" fill="#9c9c9c"/>
<ellipse class="n" cx="1156.28" cy="71.7835" rx="1.2" ry="0.9" fill="#9c9c9c"/>
<ellipse class="n" cx="1154" cy="67" rx="1.2" ry="0.9" fill="#9c9c9c"/>
<path d="M1152 36L1165 42L1165 90L1152 84Z" fill="#8a8a8a"/>
<path d="M1165 42L1205 40L1205 64L1184 70L1165 66Z" fill="url(#si)"/>
<path d="M1200 44L1206 42L1206 90L1200 92Z" fill="#8a8a8a"/>
<path d="M1165 58L1200 52L1204 62L1204 78L1196 84L1168 82Z" fill="#383838"/>
<ellipse class="n" cx="1186" cy="60" rx="19" ry="8" fill="#4a4a4a"/>
<path d="M1143 92L1152 80L1166 90L1166 140L1157 134L1143 100Z" fill="#666"/>
<path d="M1166 88L1200 92L1206 104L1206 186L1166 170Z" fill="url(#si)"/>
<path d="M1170 80L1186 74L1198 82L1198 100L1178 104L1170 96Z" fill="#5a5a5a"/>
<path d="M1176 84L1182 80L1186 84L1186 104L1176 106Z" fill="#999"/>
<path d="M1186 92L1204 88L1206 96L1190 102Z" fill="#888"/>
<ellipse class="n" cx="1209.7" cy="102.6" rx="10.5" ry="11.5" transform="rotate(-10 1209.7 102.6)" fill="#6a6a6a"/>
<ellipse class="n" cx="1209.7" cy="102.6" rx="8.5" ry="9.5" transform="rotate(-10 1209.7 102.6)" fill="#8e8e8e"/>
<ellipse class="n" cx="1209.7" cy="102.6" rx="6" ry="7" transform="rotate(-10 1209.7 102.6)" fill="#a8a8a8"/>
<path d="M1196 106L1206 110L1206 186L1198 184Z" fill="#707070"/>
<path d="M1152 150L1160 146L1160 176L1152 172Z" fill="#777"/>
</g>
<path class="m" d="M1302.5 17.5l2.5 4l-3.5 -1zM1304 21.5l2.5 -8"/>
<text class="ts" x="1308" y="25" font-size="12" textLength="16" lengthAdjust="spacingAndGlyphs">(✓)</text>
</g>
<g id="p20_view1">
<rect class="t" x="66.5" y="29" width="81" height="58" rx="5" transform="rotate(-42.5 107 58)"/>
<path class="c" d="M76 86L140 27"/>
<path class="c" d="M86 36L127 80"/>
<path class="t" d="M75 41L88 29"/>
<path class="t" d="M76 38L80 34"/>
<path class="t" d="M83 32L88 27"/>
<rect class="kw" x="175" y="22" width="114.5" height="5.5" rx="1"/>
<rect class="kw" x="175" y="28.75" width="114.5" height="6.25" rx="1"/>
<path class="k" d="M176 28.125L288.5 28.125"/>
<rect class="mw" x="174.9" y="18.7" width="5.2" height="3.3" rx="0.8"/>
<rect class="mw" x="174.9" y="35" width="5.2" height="4.8" rx="0.8"/>
<path class="c" d="M177.5 17.7L177.5 41.3"/>
<rect class="t" x="176.3" y="39.8" width="2.4" height="1.5"/>
<rect class="mw" x="181.15" y="18.7" width="5.2" height="3.3" rx="0.8"/>
<rect class="mw" x="181.15" y="35" width="5.2" height="4.8" rx="0.8"/>
<path class="c" d="M183.75 17.7L183.75 41.3"/>
<rect class="t" x="182.55" y="39.8" width="2.4" height="1.5"/>
<rect class="mw" x="191.4" y="18.7" width="5.2" height="3.3" rx="0.8"/>
<rect class="mw" x="191.4" y="35" width="5.2" height="4.8" rx="0.8"/>
<path class="c" d="M194 17.7L194 41.3"/>
<rect class="t" x="192.8" y="39.8" width="2.4" height="1.5"/>
<rect class="mw" x="209.15" y="18.7" width="5.2" height="3.3" rx="0.8"/>
<rect class="mw" x="209.15" y="35" width="5.2" height="4.8" rx="0.8"/>
<path class="c" d="M211.75 17.7L211.75 41.3"/>
<rect class="t" x="210.55" y="39.8" width="2.4" height="1.5"/>
<rect class="mw" x="229.15" y="18.7" width="5.2" height="3.3" rx="0.8"/>
<rect class="mw" x="229.15" y="35" width="5.2" height="4.8" rx="0.8"/>
<path class="c" d="M231.75 17.7L231.75 41.3"/>
<rect class="t" x="230.55" y="39.8" width="2.4" height="1.5"/>
<rect class="mw" x="249.15" y="18.7" width="5.2" height="3.3" rx="0.8"/>
<rect class="mw" x="249.15" y="35" width="5.2" height="4.8" rx="0.8"/>
<path class="c" d="M251.75 17.7L251.75 41.3"/>
<rect class="t" x="250.55" y="39.8" width="2.4" height="1.5"/>
<rect class="mw" x="266.4" y="18.7" width="5.2" height="3.3" rx="0.8"/>
<rect class="mw" x="266.4" y="35" width="5.2" height="4.8" rx="0.8"/>
<path class="c" d="M269 17.7L269 41.3"/>
<rect class="t" x="267.8" y="39.8" width="2.4" height="1.5"/>
<rect class="mw" x="277.4" y="18.7" width="5.2" height="3.3" rx="0.8"/>
<rect class="mw" x="277.4" y="35" width="5.2" height="4.8" rx="0.8"/>
<path class="c" d="M280 17.7L280 41.3"/>
<rect class="t" x="278.8" y="39.8" width="2.4" height="1.5"/>
<rect class="mw" x="283.4" y="18.7" width="5.2" height="3.3" rx="0.8"/>
<rect class="mw" x="283.4" y="35" width="5.2" height="4.8" rx="0.8"/>
<path class="c" d="M286 17.7L286 41.3"/>
<rect class="t" x="284.8" y="39.8" width="2.4" height="1.5"/>
<path class="t" d="M186.25 35L186.25 85"/>
<path class="t" d="M277.5 35L277.5 85"/>
<path class="c" d="M231.75 15L231.75 300"/>
<rect class="kw" x="191" y="83.75" width="98.5" height="5" rx="1"/>
<rect class="kw" x="191" y="98.75" width="98.5" height="5" rx="1"/>
<path class="t" d="M191 92L289 92"/>
<path class="t" d="M191 95.5L289 95.5"/>
<rect class="mw" x="191.4" y="80.5" width="5.2" height="3.3" rx="0.8"/>
<rect class="mw" x="191.4" y="103.75" width="5.2" height="4.5" rx="0.8"/>
<rect class="mw" x="192.7" y="88.75" width="2.6" height="10"/>
<path class="c" d="M194 79L194 110"/>
<rect class="mw" x="209.15" y="80.5" width="5.2" height="3.3" rx="0.8"/>
<rect class="mw" x="209.15" y="103.75" width="5.2" height="4.5" rx="0.8"/>
<rect class="mw" x="210.45" y="88.75" width="2.6" height="10"/>
<path class="c" d="M211.75 79L211.75 110"/>
<rect class="mw" x="229.15" y="80.5" width="5.2" height="3.3" rx="0.8"/>
<rect class="mw" x="229.15" y="103.75" width="5.2" height="4.5" rx="0.8"/>
<rect class="mw" x="230.45" y="88.75" width="2.6" height="10"/>
<path class="c" d="M231.75 79L231.75 110"/>
<rect class="mw" x="249.15" y="80.5" width="5.2" height="3.3" rx="0.8"/>
<rect class="mw" x="249.15" y="103.75" width="5.2" height="4.5" rx="0.8"/>
<rect class="mw" x="250.45" y="88.75" width="2.6" height="10"/>
<path class="c" d="M251.75 79L251.75 110"/>
<rect class="mw" x="266.4" y="80.5" width="5.2" height="3.3" rx="0.8"/>
<rect class="mw" x="266.4" y="103.75" width="5.2" height="4.5" rx="0.8"/>
<rect class="mw" x="267.7" y="88.75" width="2.6" height="10"/>
<path class="c" d="M269 79L269 110"/>
<rect class="mw" x="277.4" y="80.5" width="5.2" height="3.3" rx="0.8"/>
<rect class="mw" x="277.4" y="103.75" width="5.2" height="4.5" rx="0.8"/>
<rect class="mw" x="278.7" y="88.75" width="2.6" height="10"/>
<path class="c" d="M280 79L280 110"/>
<rect class="mw" x="283.4" y="80.5" width="5.2" height="3.3" rx="0.8"/>
<rect class="mw" x="283.4" y="103.75" width="5.2" height="4.5" rx="0.8"/>
<rect class="mw" x="284.7" y="88.75" width="2.6" height="10"/>
<path class="c" d="M286 79L286 110"/>
<path class="k" d="M160.75 68.75V58q0 -3.5 3 -3.5h13q2 0 3.3 2l6 9.5"/>
<rect class="kw" x="158" y="68.75" width="33" height="15"/>
<rect class="kw" x="155" y="83.75" width="39" height="2.5"/>
<rect class="mw" x="153.3" y="80" width="4.4" height="3.7" rx="0.8"/>
<rect class="mw" x="153.5" y="86.25" width="4" height="3.5" rx="0.8"/>
<rect class="mw" x="190.8" y="80" width="4.4" height="3.7" rx="0.8"/>
<rect class="mw" x="191" y="86.25" width="4" height="3.5" rx="0.8"/>
<path class="k" d="M161 86L161 110"/>
<path class="k" d="M188 86L188 110"/>
<path class="t" d="M164 86L164 108"/>
<path class="t" d="M185 86L185 108"/>
<path class="kw" d="M163.5 97L178 75.5a2 2 0 0 1 3.6 2L169 102"/>
<circle class="kw" cx="166" cy="100" r="5"/>
<path class="t" d="M180 52L187 67"/>
<path class="t" d="M180.5 51.5q10 0 17 8"/>
<text class="ts" x="201" y="60" font-size="6.08" transform="rotate(55 201 60)" textLength="7.4" lengthAdjust="spacingAndGlyphs">30°</text>
<rect class="mw" x="113.75" y="108.75" width="3.75" height="156"/>
<rect class="mw" x="130" y="102" width="13.75" height="170" rx="1"/>
<path class="t" d="M134 104L134 270"/>
<path class="t" d="M140 104L140 270"/>
<rect class="mw" x="127" y="105" width="3" height="4"/>
<rect class="mw" x="143.75" y="105" width="4" height="4"/>
<path class="c" d="M125 107L150 107"/>
<rect class="mw" x="127" y="138" width="3" height="4"/>
<rect class="mw" x="143.75" y="138" width="4" height="4"/>
<path class="c" d="M125 140L150 140"/>
<rect class="mw" x="127" y="201" width="3" height="4"/>
<rect class="mw" x="143.75" y="201" width="4" height="4"/>
<path class="c" d="M125 203L150 203"/>
<rect class="mw" x="127" y="232" width="3" height="4"/>
<rect class="mw" x="143.75" y="232" width="4" height="4"/>
<path class="c" d="M125 234L150 234"/>
<rect class="mw" x="127" y="265" width="3" height="4"/>
<rect class="mw" x="143.75" y="265" width="4" height="4"/>
<path class="c" d="M125 267L150 267"/>
<path class="m" d="M117.5 116L130 116"/>
<path class="m" d="M117.5 166L130 166"/>
<path class="m" d="M117.5 170L130 170"/>
<path class="m" d="M117.5 246L130 246"/>
<path class="m" d="M117.5 250L130 250"/>
<path class="m" d="M143.75 187h22v6h-30"/>
<path class="m" d="M143.75 251h22v6h-30"/>
<path class="m" d="M143.75 116L296 116"/>
<path class="m" d="M143.75 121L296 121"/>
<path class="m" d="M232.5 165L232.5 261"/>
<path class="m" d="M132.5 257.5L232.5 257.5"/>
<path class="m" d="M132.5 261L232.5 261"/>
<path class="t" d="M186.25 261L186.25 277.5"/>
<path class="t" d="M277.5 225L277.5 277.5"/>
<rect class="mw" x="155" y="261" width="4" height="4"/>
<path class="kw" d="M100 168.4L160 110Q164 105.7 170 105.7H178Q184 105.7 188 110L222 160L190 186Q182 174 172 171Q158 168 145 177L126 200Z"/>
<path class="m" d="M143.5 131.8a33 33 0 0 1 61 0"/>
<path class="k" d="M151 122l4 -5M197 122l-4 -5"/>
<circle class="n" cx="174.6" cy="140.5" r="18.3" fill="#fff" stroke="#777" stroke-width="1.5"/>
<circle class="k" cx="174.6" cy="140.5" r="13"/>
<circle class="k" cx="174.6" cy="140.5" r="9.6"/>
<circle class="k" cx="174.6" cy="140.5" r="2" style="fill:#888"/>
<path class="c" d="M125 160a53 53 0 0 1 12 -52"/>
<path class="t" d="M128 188L168 146"/>
<text class="ts" x="146" y="153" font-size="5.67" transform="rotate(-30 146 153)" textLength="10.8" lengthAdjust="spacingAndGlyphs">R250</text>
<path class="c" d="M105 175L180 100"/>
<path class="kw" d="M227.5 128L236 114q1 -1.5 3 -1.5h17q2 0 2 2V128"/>
<rect class="kw" x="227.5" y="128" width="32" height="13"/>
<path class="m" d="M210 132L227.5 132"/>
<path class="m" d="M210 137L227.5 137"/>
<circle class="mw" cx="211" cy="134.5" r="3.5"/>
<rect class="mw" x="223" y="137" width="4" height="4" rx="0.8"/>
<rect class="t" x="223.5" y="141" width="3" height="4"/>
<rect class="mw" x="260" y="137" width="4" height="4" rx="0.8"/>
<rect class="t" x="260.5" y="141" width="3" height="4"/>
<path class="k" d="M233 141L233 152"/>
<path class="k" d="M246 141L246 152"/>
<path class="k" d="M252 141L252 152"/>
<path class="t" d="M222 146L252 122"/>
<path class="t" d="M243 117q8 3 10 18"/>
<text class="ts" x="245" y="119" font-size="5.4" transform="rotate(20 245 119)" textLength="6.5" lengthAdjust="spacingAndGlyphs">30°</text>
<rect class="kw" x="50" y="178" width="84" height="62" rx="5" transform="rotate(50 92 209)"/>
<path class="c" d="M63 174.5L121 243.5"/>
<path class="c" d="M62 236L150 166"/>
<path class="m" d="M58 220L72 238"/>
<path class="t" d="M56 222L70 240"/>
<rect class="mw" x="59" y="224" width="3" height="5"/>
<rect class="mw" x="65" y="232" width="3" height="5"/>
<circle class="d" cx="289.25" cy="200" r="37.5"/>
<path class="k" d="M258 200a31.25 31.25 0 0 0 62.5 0"/>
<circle class="k" cx="289.25" cy="200" r="13.75"/>
<circle class="m" cx="289.25" cy="200" r="10"/>
<circle class="k" cx="289.25" cy="200" r="2"/>
<circle class="mw" cx="313.682" cy="208.893" r="2.2"/>
<circle class="mw" cx="300.238" cy="223.564" r="2.2"/>
<circle class="mw" cx="278.262" cy="223.564" r="2.2"/>
<circle class="mw" cx="264.818" cy="208.893" r="2.2"/>
<circle class="kw" cx="208.75" cy="181.25" r="20.5" style="stroke-width:1.6;stroke:#2a2a2a"/>
<circle class="t" cx="208.75" cy="181.25" r="18.5"/>
<circle class="m" cx="208.75" cy="181.25" r="13.75"/>
<circle class="k" cx="208.75" cy="181.25" r="10"/>
<circle class="c" cx="208.75" cy="181.25" r="17"/>
<circle class="mw" cx="224.456" cy="187.756" r="2"/>
<circle class="mw" cx="215.256" cy="196.956" r="2"/>
<circle class="mw" cx="202.244" cy="196.956" r="2"/>
<circle class="mw" cx="193.044" cy="187.756" r="2"/>
<circle class="mw" cx="193.044" cy="174.744" r="2"/>
<circle class="mw" cx="202.244" cy="165.544" r="2"/>
<circle class="mw" cx="215.256" cy="165.544" r="2"/>
<circle class="mw" cx="224.456" cy="174.744" r="2"/>
<circle class="k" cx="208.75" cy="181.25" r="1" style="fill:#333"/>
<path class="c" d="M185.25 181.25L232.25 181.25"/>
<path class="c" d="M208.75 157.75L208.75 204.75"/>
<g transform="rotate(8 258 187)"><rect class="kw" x="238" y="176" width="26" height="24" rx="2"/><rect class="kw" x="264" y="178" width="14" height="20"/><rect class="kw" x="278" y="182" width="30" height="11"/><path class="t" d="M244 176v24M250 176v24"/></g>
<circle class="kw" cx="327.5" cy="193.75" r="20.5" style="stroke-width:1.6;stroke:#2a2a2a"/>
<circle class="t" cx="327.5" cy="193.75" r="18.5"/>
<circle class="m" cx="327.5" cy="193.75" r="13.75"/>
<circle class="k" cx="327.5" cy="193.75" r="10"/>
<circle class="c" cx="327.5" cy="193.75" r="17"/>
<circle class="mw" cx="343.206" cy="200.256" r="2"/>
<circle class="mw" cx="334.006" cy="209.456" r="2"/>
<circle class="mw" cx="320.994" cy="209.456" r="2"/>
<circle class="mw" cx="311.794" cy="200.256" r="2"/>
<circle class="mw" cx="311.794" cy="187.244" r="2"/>
<circle class="mw" cx="320.994" cy="178.044" r="2"/>
<circle class="mw" cx="334.006" cy="178.044" r="2"/>
<circle class="mw" cx="343.206" cy="187.244" r="2"/>
<circle class="k" cx="327.5" cy="193.75" r="1" style="fill:#333"/>
<path class="c" d="M304 193.75L351 193.75"/>
<path class="c" d="M327.5 170.25L327.5 217.25"/>
<path class="mw" d="M275 175L281 150Q310 138 338 166L320 176"/>
<path class="d" d="M275 175Q290 150 320 172"/>
<path d="M290 156l4 -5" stroke="#222" stroke-width="1.3" transform="rotate(-15 290 156)"/>
<path d="M300 152l4 -5" stroke="#222" stroke-width="1.3" transform="rotate(0 300 152)"/>
<path d="M312 153l4 -5" stroke="#222" stroke-width="1.3" transform="rotate(25 312 153)"/>
<path d="M322 160l4 -5" stroke="#222" stroke-width="1.3" transform="rotate(45 322 160)"/>
<path class="t" d="M289 200L310 168"/>
<path class="t" d="M289 200L322 172"/>
<path class="t" d="M352 178q3 12 1 24"/>
<text class="ts" x="358" y="184" font-size="5.4" transform="rotate(80 358 184)" textLength="6.5" lengthAdjust="spacingAndGlyphs">15°</text>
<path class="t" d="M313 222L330 235"/>
<text class="ts" x="322" y="232" font-size="5.4" transform="rotate(38 322 232)" textLength="10.3" lengthAdjust="spacingAndGlyphs">R190</text>
<path class="m" d="M250 220L262 220"/>
<path class="m" d="M250 222.5L262 222.5"/>
<rect class="kw" x="175" y="277.5" width="114.5" height="6.25" rx="1"/>
<rect class="kw" x="175" y="285" width="114.5" height="6.25" rx="1"/>
<path class="k" d="M176 284.375L288.5 284.375"/>
<rect class="mw" x="174.9" y="274.2" width="5.2" height="3.3" rx="0.8"/>
<rect class="mw" x="174.9" y="291.25" width="5.2" height="4.8" rx="0.8"/>
<path class="c" d="M177.5 273.2L177.5 297.55"/>
<rect class="t" x="176.3" y="296.05" width="2.4" height="1.5"/>
<rect class="mw" x="181.15" y="274.2" width="5.2" height="3.3" rx="0.8"/>
<rect class="mw" x="181.15" y="291.25" width="5.2" height="4.8" rx="0.8"/>
<path class="c" d="M183.75 273.2L183.75 297.55"/>
<rect class="t" x="182.55" y="296.05" width="2.4" height="1.5"/>
<rect class="mw" x="191.4" y="274.2" width="5.2" height="3.3" rx="0.8"/>
<rect class="mw" x="191.4" y="291.25" width="5.2" height="4.8" rx="0.8"/>
<path class="c" d="M194 273.2L194 297.55"/>
<rect class="t" x="192.8" y="296.05" width="2.4" height="1.5"/>
<rect class="mw" x="209.15" y="274.2" width="5.2" height="3.3" rx="0.8"/>
<rect class="mw" x="209.15" y="291.25" width="5.2" height="4.8" rx="0.8"/>
<path class="c" d="M211.75 273.2L211.75 297.55"/>
<rect class="t" x="210.55" y="296.05" width="2.4" height="1.5"/>
<rect class="mw" x="229.15" y="274.2" width="5.2" height="3.3" rx="0.8"/>
<rect class="mw" x="229.15" y="291.25" width="5.2" height="4.8" rx="0.8"/>
<path class="c" d="M231.75 273.2L231.75 297.55"/>
<rect class="t" x="230.55" y="296.05" width="2.4" height="1.5"/>
<rect class="mw" x="249.15" y="274.2" width="5.2" height="3.3" rx="0.8"/>
<rect class="mw" x="249.15" y="291.25" width="5.2" height="4.8" rx="0.8"/>
<path class="c" d="M251.75 273.2L251.75 297.55"/>
<rect class="t" x="250.55" y="296.05" width="2.4" height="1.5"/>
<rect class="mw" x="266.4" y="274.2" width="5.2" height="3.3" rx="0.8"/>
<rect class="mw" x="266.4" y="291.25" width="5.2" height="4.8" rx="0.8"/>
<path class="c" d="M269 273.2L269 297.55"/>
<rect class="t" x="267.8" y="296.05" width="2.4" height="1.5"/>
<rect class="mw" x="277.4" y="274.2" width="5.2" height="3.3" rx="0.8"/>
<rect class="mw" x="277.4" y="291.25" width="5.2" height="4.8" rx="0.8"/>
<path class="c" d="M280 273.2L280 297.55"/>
<rect class="t" x="278.8" y="296.05" width="2.4" height="1.5"/>
<rect class="mw" x="283.4" y="274.2" width="5.2" height="3.3" rx="0.8"/>
<rect class="mw" x="283.4" y="291.25" width="5.2" height="4.8" rx="0.8"/>
<path class="c" d="M286 273.2L286 297.55"/>
<rect class="t" x="284.8" y="296.05" width="2.4" height="1.5"/>
<path class="t" d="M302.5 11L302.5 88.75"/>
<path class="t" d="M289.5 18.75L306 18.75"/>
<path class="t" d="M289.5 22L373 22"/>
<path class="t" d="M289.5 28.75L366 28.75"/>
<path class="t" d="M289.5 88.75L306 88.75"/>
<text class="ts" x="300" y="16" font-size="5.4" transform="rotate(-90 300 16)" textLength="4.8" lengthAdjust="spacingAndGlyphs">76</text>
<text class="ts" x="300" y="62" font-size="5.4" transform="rotate(-90 300 62)" textLength="7.2" lengthAdjust="spacingAndGlyphs">285</text>
<path class="t" d="M365 28.75L365 284"/>
<path class="t" d="M373.25 22L373.25 292"/>
<text class="ts" x="363" y="160" font-size="5.4" transform="rotate(-90 363 160)" textLength="9.6" lengthAdjust="spacingAndGlyphs">1203</text>
<text class="ts" x="371.5" y="160" font-size="5.4" transform="rotate(-90 371.5 160)" textLength="9.6" lengthAdjust="spacingAndGlyphs">1287</text>
<path class="t" d="M289.5 284L366 284"/>
<path class="t" d="M289.5 291.5L374 291.5"/>
<path class="t" d="M300 270L300 296"/>
<path class="t" d="M289.5 277.5L302 277.5"/>
<text class="ts" x="298" y="278" font-size="5.4" transform="rotate(-90 298 278)" textLength="4.8" lengthAdjust="spacingAndGlyphs">76</text>
<path class="t" d="M307 125L307 140"/>
<path class="t" d="M262 130L310 130"/>
<path class="t" d="M240 136.5L310 136.5"/>
<text class="ts" x="305" y="128" font-size="5.13" transform="rotate(-90 305 128)" textLength="8" lengthAdjust="spacingAndGlyphs">27,5</text>
<path class="t" d="M58.75 77.5L58.75 140"/>
<path class="t" d="M58.75 77.5L181 77.5"/>
<path class="t" d="M58.75 140L174 140"/>
<text class="ts" x="56" y="113" font-size="5.67" transform="rotate(-90 56 113)" textLength="7.5" lengthAdjust="spacingAndGlyphs">297</text>
<path class="t" d="M50 158L133 90"/>
<text class="ts" x="87" y="126" font-size="5.67" transform="rotate(-40 87 126)" textLength="7.5" lengthAdjust="spacingAndGlyphs">500</text>
<path class="t" d="M50 158L92 200"/>
<path class="t" d="M108 60L133 90"/>
<path class="t" d="M175 292L175 306"/>
<path class="t" d="M289.5 292L289.5 306"/>
<path class="t" d="M175 303.75L289.5 303.75"/>
<text class="ts" x="231" y="301.5" font-size="5.67" text-anchor="middle" textLength="10.3" lengthAdjust="spacingAndGlyphs">ø535</text>
<path class="t" d="M44 205L44 315"/>
<path class="t" d="M350 200L350 315"/>
<path class="t" d="M44 313L350 313"/>
<text class="ts" x="192" y="311.5" font-size="5.67" text-anchor="middle" textLength="10" lengthAdjust="spacingAndGlyphs">1429</text>
</g>
<g id="p21_view2">
<rect class="kw" x="518.75" y="22" width="114.25" height="5.5" rx="1"/>
<rect class="kw" x="518.75" y="28.75" width="114.25" height="6.25" rx="1"/>
<path class="k" d="M519.75 28.125L632 28.125"/>
<rect class="mw" x="518.65" y="18.7" width="5.2" height="3.3" rx="0.8"/>
<rect class="mw" x="518.65" y="35" width="5.2" height="4.8" rx="0.8"/>
<path class="c" d="M521.25 17.7L521.25 41.3"/>
<rect class="t" x="520.05" y="39.8" width="2.4" height="1.5"/>
<rect class="mw" x="524.9" y="18.7" width="5.2" height="3.3" rx="0.8"/>
<rect class="mw" x="524.9" y="35" width="5.2" height="4.8" rx="0.8"/>
<path class="c" d="M527.5 17.7L527.5 41.3"/>
<rect class="t" x="526.3" y="39.8" width="2.4" height="1.5"/>
<rect class="mw" x="535.4" y="18.7" width="5.2" height="3.3" rx="0.8"/>
<rect class="mw" x="535.4" y="35" width="5.2" height="4.8" rx="0.8"/>
<path class="c" d="M538 17.7L538 41.3"/>
<rect class="t" x="536.8" y="39.8" width="2.4" height="1.5"/>
<rect class="mw" x="552.9" y="18.7" width="5.2" height="3.3" rx="0.8"/>
<rect class="mw" x="552.9" y="35" width="5.2" height="4.8" rx="0.8"/>
<path class="c" d="M555.5 17.7L555.5 41.3"/>
<rect class="t" x="554.3" y="39.8" width="2.4" height="1.5"/>
<rect class="mw" x="572.9" y="18.7" width="5.2" height="3.3" rx="0.8"/>
<rect class="mw" x="572.9" y="35" width="5.2" height="4.8" rx="0.8"/>
<path class="c" d="M575.5 17.7L575.5 41.3"/>
<rect class="t" x="574.3" y="39.8" width="2.4" height="1.5"/>
<rect class="mw" x="592.9" y="18.7" width="5.2" height="3.3" rx="0.8"/>
<rect class="mw" x="592.9" y="35" width="5.2" height="4.8" rx="0.8"/>
<path class="c" d="M595.5 17.7L595.5 41.3"/>
<rect class="t" x="594.3" y="39.8" width="2.4" height="1.5"/>
<rect class="mw" x="610.4" y="18.7" width="5.2" height="3.3" rx="0.8"/>
<rect class="mw" x="610.4" y="35" width="5.2" height="4.8" rx="0.8"/>
<path class="c" d="M613 17.7L613 41.3"/>
<rect class="t" x="611.8" y="39.8" width="2.4" height="1.5"/>
<rect class="mw" x="621.15" y="18.7" width="5.2" height="3.3" rx="0.8"/>
<rect class="mw" x="621.15" y="35" width="5.2" height="4.8" rx="0.8"/>
<path class="c" d="M623.75 17.7L623.75 41.3"/>
<rect class="t" x="622.55" y="39.8" width="2.4" height="1.5"/>
<rect class="mw" x="627.4" y="18.7" width="5.2" height="3.3" rx="0.8"/>
<rect class="mw" x="627.4" y="35" width="5.2" height="4.8" rx="0.8"/>
<path class="c" d="M630 17.7L630 41.3"/>
<rect class="t" x="628.8" y="39.8" width="2.4" height="1.5"/>
<path class="t" d="M530 35L530 83.75"/>
<path class="t" d="M621.25 35L621.25 83.75"/>
<path class="c" d="M575.5 15L575.5 300"/>
<rect class="kw" x="518.75" y="83.75" width="114.25" height="5" rx="1"/>
<rect class="kw" x="518.75" y="98.75" width="114.25" height="5" rx="1"/>
<path class="t" d="M522 91L630 91"/>
<path class="t" d="M522 96.5L630 96.5"/>
<rect class="mw" x="518.65" y="80.5" width="5.2" height="3.3" rx="0.8"/>
<rect class="mw" x="519.95" y="88.75" width="2.6" height="10"/>
<path class="c" d="M521.25 79L521.25 106"/>
<rect class="mw" x="524.9" y="80.5" width="5.2" height="3.3" rx="0.8"/>
<rect class="mw" x="526.2" y="88.75" width="2.6" height="10"/>
<path class="c" d="M527.5 79L527.5 106"/>
<rect class="mw" x="552.9" y="80.5" width="5.2" height="3.3" rx="0.8"/>
<rect class="mw" x="554.2" y="88.75" width="2.6" height="10"/>
<path class="c" d="M555.5 79L555.5 106"/>
<rect class="mw" x="572.9" y="80.5" width="5.2" height="3.3" rx="0.8"/>
<rect class="mw" x="574.2" y="88.75" width="2.6" height="10"/>
<path class="c" d="M575.5 79L575.5 106"/>
<rect class="mw" x="592.9" y="80.5" width="5.2" height="3.3" rx="0.8"/>
<rect class="mw" x="594.2" y="88.75" width="2.6" height="10"/>
<path class="c" d="M595.5 79L595.5 106"/>
<rect class="mw" x="621.15" y="80.5" width="5.2" height="3.3" rx="0.8"/>
<rect class="mw" x="622.45" y="88.75" width="2.6" height="10"/>
<path class="c" d="M623.75 79L623.75 106"/>
<rect class="mw" x="627.4" y="80.5" width="5.2" height="3.3" rx="0.8"/>
<rect class="mw" x="628.7" y="88.75" width="2.6" height="10"/>
<path class="c" d="M630 79L630 106"/>
<rect class="kw" x="520" y="103.75" width="111.25" height="166" rx="2"/>
<rect class="k" x="526" y="108.75" width="100" height="159" rx="4"/>
<rect class="t" x="523.5" y="106" width="105" height="163" rx="3"/>
<circle class="mw" cx="527.5" cy="107.5" r="2.8"/>
<circle class="mw" cx="527.5" cy="267" r="2.8"/>
<path class="c" d="M527.5 102L527.5 113"/>
<path class="c" d="M527.5 262L527.5 272"/>
<circle class="mw" cx="559.25" cy="107.5" r="2.8"/>
<circle class="mw" cx="559.25" cy="267" r="2.8"/>
<path class="c" d="M559.25 102L559.25 113"/>
<path class="c" d="M559.25 262L559.25 272"/>
<circle class="mw" cx="591.25" cy="107.5" r="2.8"/>
<circle class="mw" cx="591.25" cy="267" r="2.8"/>
<path class="c" d="M591.25 102L591.25 113"/>
<path class="c" d="M591.25 262L591.25 272"/>
<circle class="mw" cx="623.75" cy="107.5" r="2.8"/>
<circle class="mw" cx="623.75" cy="267" r="2.8"/>
<path class="c" d="M623.75 102L623.75 113"/>
<path class="c" d="M623.75 262L623.75 272"/>
<circle class="mw" cx="523.75" cy="139" r="2.8"/>
<circle class="mw" cx="627.5" cy="139" r="2.8"/>
<path class="c" d="M519 139L530 139"/>
<path class="c" d="M622 139L633 139"/>
<circle class="mw" cx="523.75" cy="170.5" r="2.8"/>
<circle class="mw" cx="627.5" cy="170.5" r="2.8"/>
<path class="c" d="M519 170.5L530 170.5"/>
<path class="c" d="M622 170.5L633 170.5"/>
<circle class="mw" cx="523.75" cy="202.5" r="2.8"/>
<circle class="mw" cx="627.5" cy="202.5" r="2.8"/>
<path class="c" d="M519 202.5L530 202.5"/>
<path class="c" d="M622 202.5L633 202.5"/>
<circle class="mw" cx="523.75" cy="235" r="2.8"/>
<circle class="mw" cx="627.5" cy="235" r="2.8"/>
<path class="c" d="M519 235L530 235"/>
<path class="c" d="M622 235L633 235"/>
<rect class="mw" x="516" y="119.5" width="3.5" height="3"/>
<rect class="mw" x="516" y="173.5" width="3.5" height="3"/>
<rect class="mw" x="516" y="197.5" width="3.5" height="3"/>
<rect class="mw" x="516" y="221.5" width="3.5" height="3"/>
<rect class="mw" x="542" y="166" width="3.5" height="44" rx="1.75"/>
<path class="c" d="M543.75 163L543.75 213"/>
<rect class="mw" x="605.25" y="166" width="3.5" height="44" rx="1.75"/>
<path class="c" d="M607 163L607 213"/>
<path class="c" d="M400 140.5L745 140.5"/>
<path class="c" d="M400 200L745 200"/>
<path class="c" d="M575.5 100L575.5 275"/>
<rect class="kw" x="474" y="108.75" width="3.5" height="64"/>
<rect class="kw" x="477.5" y="108.75" width="26" height="64" rx="1.5"/>
<path class="t" d="M481 110L481 172"/>
<path class="t" d="M500 110L500 172"/>
<rect class="mw" x="472.5" y="115.5" width="2" height="3"/>
<rect class="mw" x="472.5" y="138.5" width="2" height="3"/>
<rect class="mw" x="472.5" y="162.5" width="2" height="3"/>
<path class="m" d="M503.5 116h16.5M503.5 165h16.5M505 119v43M516 119v43M505 119l11 6M505 162l11 -6"/>
<rect class="mw" x="512" y="119.5" width="3" height="3"/>
<rect class="mw" x="512" y="158" width="3" height="3"/>
<path class="m" d="M500 108.75l1 -2.5l1 2.5"/>
<rect class="kw" x="410.5" y="190" width="22" height="20" rx="1"/>
<rect class="kw" x="432.5" y="188.75" width="77.5" height="22.5"/>
<path class="m" d="M457 188L510 188"/>
<rect class="kw" x="510" y="186.25" width="8.75" height="27.5"/>
<path class="c" d="M405 200L520 200"/>
<path class="kw" d="M513.75 250L530 228.75l7.5 6v25h-23.75z"/>
<path class="n" d="M513.75 254h5v6h-5zM530 254h7.5v6h-7.5z" fill="#bbb"/>
<path class="m" d="M520 240L520 260"/>
<path class="m" d="M524 236L524 260"/>
<path class="t" d="M530 229L530 260"/>
<path class="t" d="M497.5 200L497.5 270"/>
<path class="t" d="M494 253.5L520 253.5"/>
<path class="t" d="M494 260L520 260"/>
<text class="ts" x="495.5" y="230" font-size="5.4" transform="rotate(-90 495.5 230)" textLength="7.2" lengthAdjust="spacingAndGlyphs">290</text>
<text class="ts" x="495.5" y="268" font-size="5.4" transform="rotate(-90 495.5 268)" textLength="4.8" lengthAdjust="spacingAndGlyphs">30</text>
<path class="t" d="M520 245.75L575.5 245.75"/>
<text class="ts" x="548" y="244" font-size="5.4" text-anchor="middle" textLength="7.2" lengthAdjust="spacingAndGlyphs">260</text>
<path class="t" d="M502 241L522 241"/>
<text class="ts" x="505" y="239.5" font-size="5.4" textLength="7.2" lengthAdjust="spacingAndGlyphs">#20</text>
<rect class="kw" x="518.75" y="277.5" width="114.25" height="6.25" rx="1"/>
<rect class="kw" x="518.75" y="285" width="114.25" height="6.25" rx="1"/>
<path class="k" d="M519.75 284.375L632 284.375"/>
<rect class="mw" x="518.65" y="274.2" width="5.2" height="3.3" rx="0.8"/>
<rect class="mw" x="518.65" y="291.25" width="5.2" height="4.8" rx="0.8"/>
<path class="c" d="M521.25 273.2L521.25 297.55"/>
<rect class="t" x="520.05" y="296.05" width="2.4" height="1.5"/>
<rect class="mw" x="524.9" y="274.2" width="5.2" height="3.3" rx="0.8"/>
<rect class="mw" x="524.9" y="291.25" width="5.2" height="4.8" rx="0.8"/>
<path class="c" d="M527.5 273.2L527.5 297.55"/>
<rect class="t" x="526.3" y="296.05" width="2.4" height="1.5"/>
<rect class="mw" x="535.4" y="274.2" width="5.2" height="3.3" rx="0.8"/>
<rect class="mw" x="535.4" y="291.25" width="5.2" height="4.8" rx="0.8"/>
<path class="c" d="M538 273.2L538 297.55"/>
<rect class="t" x="536.8" y="296.05" width="2.4" height="1.5"/>
<rect class="mw" x="552.9" y="274.2" width="5.2" height="3.3" rx="0.8"/>
<rect class="mw" x="552.9" y="291.25" width="5.2" height="4.8" rx="0.8"/>
<path class="c" d="M555.5 273.2L555.5 297.55"/>
<rect class="t" x="554.3" y="296.05" width="2.4" height="1.5"/>
<rect class="mw" x="572.9" y="274.2" width="5.2" height="3.3" rx="0.8"/>
<rect class="mw" x="572.9" y="291.25" width="5.2" height="4.8" rx="0.8"/>
<path class="c" d="M575.5 273.2L575.5 297.55"/>
<rect class="t" x="574.3" y="296.05" width="2.4" height="1.5"/>
<rect class="mw" x="592.9" y="274.2" width="5.2" height="3.3" rx="0.8"/>
<rect class="mw" x="592.9" y="291.25" width="5.2" height="4.8" rx="0.8"/>
<path class="c" d="M595.5 273.2L595.5 297.55"/>
<rect class="t" x="594.3" y="296.05" width="2.4" height="1.5"/>
<rect class="mw" x="610.4" y="274.2" width="5.2" height="3.3" rx="0.8"/>
<rect class="mw" x="610.4" y="291.25" width="5.2" height="4.8" rx="0.8"/>
<path class="c" d="M613 273.2L613 297.55"/>
<rect class="t" x="611.8" y="296.05" width="2.4" height="1.5"/>
<rect class="mw" x="621.15" y="274.2" width="5.2" height="3.3" rx="0.8"/>
<rect class="mw" x="621.15" y="291.25" width="5.2" height="4.8" rx="0.8"/>
<path class="c" d="M623.75 273.2L623.75 297.55"/>
<rect class="t" x="622.55" y="296.05" width="2.4" height="1.5"/>
<rect class="mw" x="627.4" y="274.2" width="5.2" height="3.3" rx="0.8"/>
<rect class="mw" x="627.4" y="291.25" width="5.2" height="4.8" rx="0.8"/>
<path class="c" d="M630 273.2L630 297.55"/>
<rect class="t" x="628.8" y="296.05" width="2.4" height="1.5"/>
<path d="M452 140.5h12.5" stroke="#222" stroke-width="1.3"/>
<path d="M455 126.5v11" class="m"/><path d="M455 139.8l-1.3 -5h2.6z" fill="#333"/>
<text class="tx" x="446" y="132" font-size="11" textLength="6" lengthAdjust="spacingAndGlyphs">Г</text>
<path d="M745.5 140h12.5" stroke="#222" stroke-width="1.3"/>
<path d="M748.5 126v11" class="m"/><path d="M748.5 139.3l-1.3 -5h2.6z" fill="#333"/>
<text class="tx" x="756.5" y="131" font-size="11" textLength="6" lengthAdjust="spacingAndGlyphs">Г</text>
<path d="M745.5 199.8h12.5" stroke="#222" stroke-width="1.3"/>
<path d="M748.5 185.8v11" class="m"/><path d="M748.5 199.10000000000002l-1.3 -5h2.6z" fill="#333"/>
<text class="tx" x="756.5" y="192" font-size="11" textLength="6" lengthAdjust="spacingAndGlyphs">Д</text>
<path d="M392.5 200h12.5" stroke="#222" stroke-width="1.3"/>
<path d="M395.5 186v11" class="m"/><path d="M395.5 199.3l-1.3 -5h2.6z" fill="#333"/>
<text class="tx" x="386.5" y="192" font-size="11" textLength="6" lengthAdjust="spacingAndGlyphs">Д</text>
<path d="M463.25 167.5V179.5" stroke="#222" stroke-width="1.3"/>
<path d="M449.25 169.5h11" class="m"/><path d="M462.55 169.5l-5 -1.3v2.6z" fill="#333"/>
<text class="tx" x="448" y="168" font-size="11" textLength="6" lengthAdjust="spacingAndGlyphs">К</text>
<path d="M463.25 214V225.5" stroke="#222" stroke-width="1.3"/>
<path d="M449.25 222.5h11" class="m"/><path d="M462.55 222.5l-5 -1.3v2.6z" fill="#333"/>
<text class="tx" x="448" y="231" font-size="11" textLength="6" lengthAdjust="spacingAndGlyphs">К</text>
<path d="M389 212.5h12" class="m"/><path d="M404.5 212.5l-5 -1.3v2.6z" fill="#333"/>
<text class="tx" x="391" y="211.5" font-size="11" textLength="6.5" lengthAdjust="spacingAndGlyphs">А</text>
<path class="kw" d="M648.75 69.7V58q0 -3 3 -3h17q3 0 3 3V69.7"/>
<rect class="kw" x="646.5" y="69.7" width="26" height="14"/>
<circle class="mw" cx="652.6" cy="81.5" r="2"/>
<circle class="mw" cx="664.5" cy="81.5" r="2"/>
<path class="k" d="M644 84.5L676 84.5"/>
<path class="m" d="M672.5 74h4v28h-2.5v-24h-1.5"/>
<rect class="mw" x="680" y="96" width="3" height="10"/>
<path class="m" d="M681.5 93L681.5 128"/>
<path class="k" d="M656 84.5v28h-3M660 84.5v28M672 84.5l-6 24"/>
<rect class="mw" x="633.5" y="117" width="13.5" height="46"/>
<path class="m" d="M633.5 120l13.5 5M633.5 160l13.5 -5"/>
<rect class="mw" x="631" y="121" width="3" height="3"/>
<rect class="mw" x="631" y="157" width="3" height="3"/>
<path class="kw" d="M646.7 108h20q4.5 0 4.5 4.5V172.5h-24.5z"/>
<path class="t" d="M649.5 108L649.5 172.5"/>
<path class="t" d="M668 108L668 172.5"/>
<rect class="mw" x="671.2" y="115" width="5" height="48"/>
<path class="t" d="M674 115L674 163"/>
<rect class="mw" x="675" y="116.8" width="2.5" height="2.4"/>
<rect class="mw" x="675" y="126.8" width="2.5" height="2.4"/>
<rect class="mw" x="675" y="148.8" width="2.5" height="2.4"/>
<rect class="mw" x="675" y="158.8" width="2.5" height="2.4"/>
<path class="k" d="M672 133.5L690 133.5"/>
<text class="ts" x="682" y="131.5" font-size="4.73" textLength="4.2" lengthAdjust="spacingAndGlyphs">16</text>
<rect class="mw" x="676.5" y="120" width="15" height="38.7"/>
<rect class="mw" x="691.8" y="113" width="23" height="45.7" rx="2"/>
<rect class="mw" x="714.7" y="125" width="12" height="29.7" rx="2"/>
<path class="t" d="M715 128L726 128"/>
<path class="t" d="M715 131.5L726 131.5"/>
<path class="t" d="M715 135L726 135"/>
<path class="t" d="M715 138.5L726 138.5"/>
<path class="t" d="M715 142L726 142"/>
<path class="t" d="M715 145.5L726 145.5"/>
<path class="t" d="M715 149L726 149"/>
<path class="m" d="M721 125L721 154.7"/>
<rect class="kw" x="671.2" y="158.7" width="37.6" height="99"/>
<path class="c" d="M690 155L690 262"/>
<path class="m" d="M671.2 198L708.8 198"/>
<path class="c" d="M668 177L712 177"/>
<circle class="k" cx="690" cy="177" r="1"/>
<rect class="kw" x="708.8" y="160.6" width="17.8" height="53.4" rx="1"/>
<rect class="mw" x="726.6" y="164" width="3" height="46"/>
<path class="t" d="M712 160.6L712 214"/>
<rect class="mw" x="728" y="167" width="2.5" height="2"/>
<rect class="mw" x="728" y="177" width="2.5" height="2"/>
<rect class="mw" x="728" y="187" width="2.5" height="2"/>
<rect class="mw" x="728" y="197" width="2.5" height="2"/>
<rect class="mw" x="728" y="206" width="2.5" height="2"/>
<ellipse class="kw" cx="690.2" cy="226.7" rx="12" ry="8.7" style="stroke-width:1.3"/>
<ellipse class="t" cx="690.2" cy="226.7" rx="10" ry="7"/>
<circle class="mw" cx="690.2" cy="223.5" r="2.2"/>
<circle class="mw" cx="690.2" cy="230" r="2.2"/>
<circle class="m" cx="690.2" cy="223.5" r="1"/>
<circle class="m" cx="690.2" cy="230" r="1"/>
<path class="mw" d="M633.6 172.5h20q7.7 0 7.7 8V226q0 7.8 -7.7 7.8h-12q-8 0 -8 -8z"/>
<path class="t" d="M638 174q-4 30 0 58"/>
<path class="t" d="M655 172.5L655 233.8"/>
<rect class="mw" x="661.3" y="176" width="4" height="54"/>
<rect class="mw" x="663" y="178.8" width="2.5" height="2.4"/>
<rect class="mw" x="663" y="190.8" width="2.5" height="2.4"/>
<rect class="mw" x="663" y="213.8" width="2.5" height="2.4"/>
<rect class="mw" x="663" y="224.8" width="2.5" height="2.4"/>
<path class="kw" d="M631.25 180h8v-1.5q4 -1 6 2v12q-2 3 -6 2v-1.5h-8"/>
<circle class="m" cx="641" cy="191" r="1.5"/>
<path class="kw" d="M631.25 244h8v-1.5q4 -1 6 2v12q-2 3 -6 2v-1.5h-8"/>
<circle class="m" cx="641" cy="255" r="1.5"/>
<path class="m" d="M631.25 176l10 -6h5"/>
<text class="tx" x="507.5" y="307.5" font-size="10.5" textLength="14" lengthAdjust="spacingAndGlyphs">В-В</text>
<text class="tx" x="684" y="278" font-size="10.5" textLength="19" lengthAdjust="spacingAndGlyphs">А(1:2)</text>
</g>
<g id="p22_view3">
<path class="t" d="M35 453L35 567"/>
<path class="t" d="M33 453L58 453"/>
<path class="t" d="M33 567L60 567"/>
<text class="ts" x="33" y="510" font-size="5.4" transform="rotate(-90 33 510)" textLength="7.2" lengthAdjust="spacingAndGlyphs">538</text>
<path class="t" d="M78.75 453L78.75 580"/>
<path class="t" d="M86.25 453L86.25 536"/>
<path class="t" d="M76 580L100 580"/>
<path class="t" d="M84 536L145 536"/>
<text class="ts" x="77" y="495" font-size="5.4" transform="rotate(-90 77 495)" textLength="7.2" lengthAdjust="spacingAndGlyphs">598</text>
<text class="ts" x="84.5" y="495" font-size="5.4" transform="rotate(-90 84.5 495)" textLength="7.2" lengthAdjust="spacingAndGlyphs">393</text>
<path class="c" d="M40 453L360 453"/>
<path class="t" d="M43.75 313L348.75 313"/>
<path class="t" d="M358.75 324.5L358.75 607.5"/>
<path class="t" d="M300 324.5L361 324.5"/>
<path class="t" d="M345 607.5L361 607.5"/>
<text class="ts" x="357" y="490" font-size="5.4" transform="rotate(-90 357 490)" textLength="9.6" lengthAdjust="spacingAndGlyphs">1508</text>
<rect class="kw" x="142.5" y="355" width="64.5" height="25" rx="2"/>
<rect class="kw" x="143.5" y="351.5" width="62.5" height="4" rx="1"/>
<rect class="t" x="144.5" y="350" width="3" height="1.5"/>
<rect class="t" x="156.5" y="350" width="3" height="1.5"/>
<rect class="t" x="168.5" y="350" width="3" height="1.5"/>
<rect class="t" x="185.5" y="350" width="3" height="1.5"/>
<rect class="t" x="198.5" y="350" width="3" height="1.5"/>
<path class="t" d="M142.5 358L207 358"/>
<rect class="kw" x="168" y="374" width="13" height="6"/>
<circle class="k" cx="174.5" cy="377.5" r="1" style="fill:#333"/>
<path class="m" d="M142.5 380l14 6h37l14 -6"/>
<rect class="mw" x="161" y="386" width="27" height="10"/>
<path class="t" d="M161 389L188 389"/>
<path class="t" d="M161 393L188 393"/>
<rect class="mw" x="157" y="396" width="35" height="5" rx="1"/>
<rect class="mw" x="151" y="401" width="49" height="6"/>
<circle class="mw" cx="174.5" cy="392.5" r="1.5"/>
<path class="c" d="M174.5 345L174.5 610"/>
<path class="kw" d="M200.75 540V363.75H246q7 0 10 6L296 440V510L258 540"/>
<path class="k" d="M200.75 540h49q6 0 9 -5L296 470"/>
<rect class="kw" x="279.5" y="324.5" width="20.5" height="22" rx="1.5"/>
<rect class="kw" x="278" y="346.5" width="23.5" height="41" rx="1"/>
<rect class="mw" x="287.5" y="371" width="4.5" height="14" rx="2.2"/>
<path class="t" d="M278 378q12 -4 23.5 0M278 382q12 -4 23.5 0"/>
<path class="kw" d="M276 395v-6q0 -2 2 -2h23q2 0 2 2v6"/>
<rect class="kw" x="273.5" y="395" width="48" height="3"/>
<path class="kw" d="M273.5 398h48v22l-8 8h-32l-8 -8z"/>
<path class="k" d="M281.5 428v82M308.5 428v82"/>
<path class="c" d="M290 320L290 610"/>
<rect class="t" x="274.5" y="393.5" width="3" height="1.5"/>
<rect class="t" x="300.5" y="393.5" width="3" height="1.5"/>
<rect class="t" x="314.5" y="393.5" width="3" height="1.5"/>
<path class="m" d="M273.5 510h47q3 0 3 3v14h-50"/>
<path class="m" d="M258 535.5L340 535.5"/>
<path class="m" d="M258 533L322 533"/>
<rect class="kw" x="113.75" y="403.5" width="3.75" height="98" rx="1"/>
<rect class="kw" x="128.75" y="397" width="15" height="116" rx="2"/>
<path class="t" d="M133 399L133 511"/>
<path class="m" d="M136 399L136 511"/>
<path class="t" d="M139.5 399L139.5 511"/>
<rect class="mw" x="127" y="401.8" width="3" height="4.4"/>
<rect class="mw" x="143.75" y="401.8" width="4" height="4.4"/>
<path class="c" d="M125 404L150 404"/>
<rect class="mw" x="127" y="434.3" width="3" height="4.4"/>
<rect class="mw" x="143.75" y="434.3" width="4" height="4.4"/>
<path class="c" d="M125 436.5L150 436.5"/>
<rect class="mw" x="127" y="466.8" width="3" height="4.4"/>
<rect class="mw" x="143.75" y="466.8" width="4" height="4.4"/>
<path class="c" d="M125 469L150 469"/>
<rect class="mw" x="127" y="498.8" width="3" height="4.4"/>
<rect class="mw" x="143.75" y="498.8" width="4" height="4.4"/>
<path class="c" d="M125 501L150 501"/>
<path class="m" d="M117.5 407h11.25M117.5 499h11.25"/>
<path class="m" d="M113.75 418.5h-16l-2 1.5l2 1.5h16"/>
<path class="m" d="M113.75 483.5h-16l-2 1.5l2 1.5h16"/>
<path class="m" d="M143.75 404L200.75 404"/>
<path class="t" d="M143.75 407L200.75 407"/>
<path class="m" d="M143.75 499L200.75 499"/>
<path class="m" d="M117.5 501.5v8q0 12 12 12h8"/>
<circle class="mw" cx="138" cy="516.5" r="4"/>
<circle class="m" cx="138" cy="516.5" r="2"/>
<path class="m" d="M143.75 513v8"/>
<circle class="kw" cx="232" cy="453" r="58.75"/>
<circle class="c" cx="232" cy="453" r="53"/>
<circle class="k" cx="232" cy="453" r="46"/>
<circle class="m" cx="232" cy="453" r="43.75"/>
<circle class="m" cx="232" cy="453" r="40"/>
<circle class="k" cx="232" cy="453" r="26"/>
<circle class="k" cx="232" cy="453" r="11.25"/>
<circle class="n" cx="232" cy="453" r="33" fill="none" stroke="#777" stroke-width="2.2"/>
<circle class="t" cx="232" cy="453" r="30"/>
<circle class="mw" cx="285" cy="453" r="3"/>
<circle class="t" cx="285" cy="453" r="1.8"/>
<circle class="mw" cx="280.966" cy="473.282" r="3"/>
<circle class="t" cx="280.966" cy="473.282" r="1.8"/>
<circle class="mw" cx="269.477" cy="490.477" r="3"/>
<circle class="t" cx="269.477" cy="490.477" r="1.8"/>
<circle class="mw" cx="252.282" cy="501.966" r="3"/>
<circle class="t" cx="252.282" cy="501.966" r="1.8"/>
<circle class="mw" cx="232" cy="506" r="3"/>
<circle class="t" cx="232" cy="506" r="1.8"/>
<circle class="mw" cx="211.718" cy="501.966" r="3"/>
<circle class="t" cx="211.718" cy="501.966" r="1.8"/>
<circle class="mw" cx="194.523" cy="490.477" r="3"/>
<circle class="t" cx="194.523" cy="490.477" r="1.8"/>
<circle class="mw" cx="183.034" cy="473.282" r="3"/>
<circle class="t" cx="183.034" cy="473.282" r="1.8"/>
<circle class="mw" cx="179" cy="453" r="3"/>
<circle class="t" cx="179" cy="453" r="1.8"/>
<circle class="mw" cx="183.034" cy="432.718" r="3"/>
<circle class="t" cx="183.034" cy="432.718" r="1.8"/>
<circle class="mw" cx="194.523" cy="415.523" r="3"/>
<circle class="t" cx="194.523" cy="415.523" r="1.8"/>
<circle class="mw" cx="211.718" cy="404.034" r="3"/>
<circle class="t" cx="211.718" cy="404.034" r="1.8"/>
<circle class="mw" cx="232" cy="400" r="3"/>
<circle class="t" cx="232" cy="400" r="1.8"/>
<circle class="mw" cx="252.282" cy="404.034" r="3"/>
<circle class="t" cx="252.282" cy="404.034" r="1.8"/>
<circle class="mw" cx="269.477" cy="415.523" r="3"/>
<circle class="t" cx="269.477" cy="415.523" r="1.8"/>
<circle class="mw" cx="280.966" cy="432.718" r="3"/>
<circle class="t" cx="280.966" cy="432.718" r="1.8"/>
<path class="c" d="M232 390L232 515"/>
<path class="t" d="M186 428L250 470"/>
<text class="ts" x="165" y="418" font-size="5.13" textLength="9.3" lengthAdjust="spacingAndGlyphs">ø495</text>
<path class="t" d="M164 419.5L178 419.5"/>
<path class="t" d="M178 419.5L190 426"/>
<circle class="m" cx="270" cy="415" r="4.5"/>
<path class="t" d="M255 407L284 440"/>
<path class="t" d="M270 415L276 430"/>
<path d="M231 380.5L239.3 388.8M303.3 380.5L310.5 373.4M242.9 441L250 435M316 470.5L323 479" stroke="#222" stroke-width="1.3" fill="none"/>
<path class="m" d="M233.4 382.9L222.7 392.3"/>
<path class="m" d="M310.5 373.4L320 382.9"/>
<path class="m" d="M244 438.6L251 445.7"/>
<path class="m" d="M321 476L311 484"/>
<path d="M232.5 383.5l-4.5 2l2.5 2.5zM313.5 376.5l2 4.5l2.5 -2.5zM246.5 441l2 4.5l2.5 -2.5zM320 476.5l-4.5 2l2.5 2.5z" fill="#333"/>
<text class="tx" x="217" y="388" font-size="11" textLength="6" lengthAdjust="spacingAndGlyphs">E</text>
<text class="tx" x="322" y="381" font-size="11" textLength="7" lengthAdjust="spacingAndGlyphs">И</text>
<text class="tx" x="244" y="458.5" font-size="11" textLength="7" lengthAdjust="spacingAndGlyphs">И</text>
<text class="tx" x="317" y="489" font-size="11" textLength="6" lengthAdjust="spacingAndGlyphs">E</text>
<path d="M50 453.5h12" stroke="#222" stroke-width="1.3"/>
<path d="M56 468v-11" class="m"/><path d="M56 454.5l-1.3 5h2.6z" fill="#333"/>
<text class="tx" x="47" y="468" font-size="11" textLength="6" lengthAdjust="spacingAndGlyphs">В</text>
<path d="M336.5 453.5h12" stroke="#222" stroke-width="1.3"/>
<path d="M342.5 468v-11" class="m"/><path d="M342.5 454.5l-1.3 5h2.6z" fill="#333"/>
<text class="tx" x="347" y="468" font-size="11" textLength="6" lengthAdjust="spacingAndGlyphs">В</text>
<path d="M100 516h12" stroke="#222" stroke-width="1.3"/>
<path d="M103 531v-11" class="m"/><path d="M103 517l-1.3 5h2.6z" fill="#333"/>
<text class="tx" x="94" y="531.5" font-size="11" textLength="8" lengthAdjust="spacingAndGlyphs">Ж</text>
<path d="M212 516h12" stroke="#222" stroke-width="1.3"/>
<path d="M215 531v-11" class="m"/><path d="M215 517l-1.3 5h2.6z" fill="#333"/>
<text class="tx" x="218.5" y="531.5" font-size="11" textLength="8" lengthAdjust="spacingAndGlyphs">Ж</text>
<rect class="mw" x="157" y="503" width="35" height="5" rx="1"/>
<rect class="mw" x="161" y="508" width="27" height="15"/>
<circle class="mw" cx="174.5" cy="512" r="1.5"/>
<path class="m" d="M150 499L200 499"/>
<rect class="kw" x="142.5" y="522.5" width="63.5" height="30" rx="2"/>
<rect class="kw" x="158.75" y="525" width="31.25" height="23.5" rx="3"/>
<rect class="t" x="160" y="526.5" width="28.75" height="20.5" rx="2.5"/>
<circle class="mw" cx="155.5" cy="531" r="2"/>
<circle class="mw" cx="155.5" cy="542" r="2"/>
<circle class="mw" cx="193.5" cy="536.5" r="2"/>
<path class="c" d="M140 536.5L210 536.5"/>
<rect class="mw" x="142.5" y="548" width="12" height="4.5"/>
<rect class="mw" x="194" y="548" width="12" height="4.5"/>
<rect class="t" x="144.5" y="552.5" width="3" height="1.5"/>
<rect class="t" x="151.5" y="552.5" width="3" height="1.5"/>
<rect class="t" x="183.5" y="552.5" width="3" height="1.5"/>
<rect class="t" x="196.5" y="552.5" width="3" height="1.5"/>
<rect class="mw" x="153" y="554" width="70" height="6.5"/>
<rect class="mw" x="160" y="555.5" width="10" height="4" rx="2"/>
<rect class="mw" x="205" y="555.5" width="10" height="4" rx="2"/>
<rect class="kw" x="43.75" y="548" width="98.75" height="38.25"/>
<path class="m" d="M88.75 548L88.75 586.25"/>
<path class="m" d="M92 548L92 586.25"/>
<path class="c" d="M40 567L146 567"/>
<path class="c" d="M66.5 545L66.5 590"/>
<circle class="k" cx="66.5" cy="567" r="1.2" style="fill:#333"/>
<rect class="kw" x="109.5" y="560.75" width="130.5" height="13.75"/>
<rect class="mw" x="155" y="574.5" width="38.75" height="19.25"/>
<path class="m" d="M161 593.75h27v3h-27zM163 596.75h23v3h-23zM161 599.75h27v3h-27zM165 602.75h19v2h-19z"/>
<rect class="mw" x="193.75" y="574.5" width="46" height="6"/>
<rect class="mw" x="188.75" y="580.5" width="40" height="24"/>
<path class="t" d="M193.75 577L222 577"/>
<path class="c" d="M209 560L209 610"/>
<rect class="t" x="190.5" y="604.5" width="3" height="1.5"/>
<rect class="t" x="198.5" y="604.5" width="3" height="1.5"/>
<rect class="t" x="216.5" y="604.5" width="3" height="1.5"/>
<rect class="t" x="224.5" y="604.5" width="3" height="1.5"/>
<path class="m" d="M200.75 540v12.5M232.5 540v8q0 2 2 2h18q2 0 2 2v14"/>
<path class="k" d="M232.5 542.5h22v26"/>
<rect class="kw" x="221" y="566" width="44" height="29" rx="2"/>
<rect class="kw" x="229" y="569" width="27" height="22.5" rx="3"/>
<rect class="t" x="230.5" y="570.5" width="24" height="19.5" rx="2.5"/>
<circle class="mw" cx="225.5" cy="580.5" r="2"/>
<circle class="mw" cx="262" cy="574.5" r="2"/>
<circle class="mw" cx="262" cy="586.5" r="2"/>
<path class="c" d="M218 580.5L270 580.5"/>
<path class="m" d="M209 562h30v4"/>
<rect class="mw" x="240" y="593" width="37.5" height="12" rx="2"/>
<rect class="mw" x="265" y="579" width="12.5" height="14"/>
<path class="m" d="M277.5 582l3 2v18l-3 2"/>
<circle class="k" cx="276" cy="591" r="1"/>
<rect class="mw" x="280.5" y="585" width="10" height="13"/>
<path class="t" d="M280.5 589L290.5 589"/>
<path class="t" d="M280.5 594L290.5 594"/>
<rect class="mw" x="290.5" y="583" width="17" height="17"/>
<path class="c" d="M262 591.5L345 591.5"/>
<rect class="mw" x="272.5" y="537.5" width="72.5" height="7.5"/>
<rect class="kw" x="272.5" y="545" width="72.5" height="22.5"/>
<path class="c" d="M327 530L327 610"/>
<rect class="t" x="260" y="536" width="4" height="2"/>
<rect class="t" x="273" y="536" width="4" height="2"/>
<rect class="t" x="301" y="536" width="4" height="2"/>
<rect class="t" x="314" y="536" width="4" height="2"/>
<path class="m" d="M277 567.5h26l-2 2.5h-22zM275 570h30l-2 2.5h-26zM277 572.5h26l-2 2.5h-22z"/>
<rect class="mw" x="310" y="567.5" width="35" height="12.5"/>
<rect class="kw" x="307.5" y="581" width="40" height="24" rx="1.5"/>
<path class="t" d="M307.5 584L347.5 584"/>
<path class="t" d="M307.5 602L347.5 602"/>
<rect class="t" x="309.5" y="605" width="3" height="1.5"/>
<rect class="t" x="318.5" y="605" width="3" height="1.5"/>
<rect class="t" x="332.5" y="605" width="3" height="1.5"/>
<rect class="t" x="341.5" y="605" width="3" height="1.5"/>
<text class="tx" x="99.5" y="346" font-size="10" textLength="9.5" lengthAdjust="spacingAndGlyphs">63</text>
<text class="tx" x="99.5" y="367.5" font-size="10" textLength="9.5" lengthAdjust="spacingAndGlyphs">58</text>
<text class="tx" x="99.5" y="379" font-size="10" textLength="9.5" lengthAdjust="spacingAndGlyphs">69</text>
<path class="t" d="M97 348L113 348"/>
<path class="t" d="M113 348L174.5 377.5"/>
<path class="t" d="M97 369.5L113 369.5"/>
<path class="t" d="M113 369.5L174.5 392.5"/>
<path class="t" d="M97 380.5L113 380.5"/>
<path class="t" d="M113 369.5L113 380.5"/>
</g>
<g id="p23_secBB">
<text class="ts" x="513" y="316.5" font-size="5.4" text-anchor="middle" textLength="9.8" lengthAdjust="spacingAndGlyphs">ø428</text>
<path class="t" d="M468 318.25L559.25 318.25"/>
<rect class="kw" x="456.25" y="321.25" width="115" height="4"/>
<rect class="kw" x="456.25" y="325.25" width="115" height="6"/>
<path d="M456.25 321.25h12v10h-12z" class="mh" style="fill:url(#h3)"/>
<rect class="mw" x="457.25" y="319" width="10" height="2.5" rx="0.8"/>
<rect class="mw" x="457.25" y="331.25" width="10" height="11" rx="1"/>
<path class="t" d="M460.25 319L460.25 343"/>
<path class="t" d="M464.25 319L464.25 343"/>
<path d="M559.25 321.25h12v10h-12z" class="mh" style="fill:url(#h3)"/>
<rect class="mw" x="560.25" y="319" width="10" height="2.5" rx="0.8"/>
<rect class="mw" x="560.25" y="331.25" width="10" height="11" rx="1"/>
<path class="t" d="M563.25 319L563.25 343"/>
<path class="t" d="M567.25 319L567.25 343"/>
<rect class="mw" x="472.4" y="319" width="5.2" height="2.5" rx="0.8"/>
<rect class="mw" x="489.4" y="319" width="5.2" height="2.5" rx="0.8"/>
<rect class="mw" x="510.4" y="319" width="5.2" height="2.5" rx="0.8"/>
<rect class="mw" x="531.4" y="319" width="5.2" height="2.5" rx="0.8"/>
<rect class="mw" x="548.4" y="319" width="5.2" height="2.5" rx="0.8"/>
<rect class="kw" x="468" y="331.25" width="2.5" height="61"/>
<rect class="kw" x="556.75" y="331.25" width="2.5" height="61"/>
<path class="c" d="M513 312L513 612"/>
<path class="t" d="M456.25 360L571.25 360"/>
<text class="ts" x="513" y="358.5" font-size="5.4" text-anchor="middle" textLength="7.2" lengthAdjust="spacingAndGlyphs">540</text>
<path class="t" d="M456.25 368.75L513 368.75"/>
<text class="ts" x="485" y="367" font-size="5.4" text-anchor="middle" textLength="7.2" lengthAdjust="spacingAndGlyphs">270</text>
<path class="t" d="M456.25 343L456.25 382"/>
<path class="t" d="M571.25 343L571.25 382"/>
<path class="t" d="M481.25 386.75L545 386.75"/>
<text class="ts" x="513" y="385" font-size="5.4" text-anchor="middle" textLength="9.8" lengthAdjust="spacingAndGlyphs">ø300</text>
<text class="ts" x="513" y="400.5" font-size="5.4" text-anchor="middle" textLength="9.8" lengthAdjust="spacingAndGlyphs">ø358</text>
<path class="t" d="M475 402L551 402"/>
<rect class="mw" x="457.25" y="381" width="10" height="3" rx="0.8"/>
<rect class="kw" x="456.25" y="384" width="12" height="8"/>
<rect class="kw" x="456.25" y="392.5" width="12" height="9"/>
<rect class="mw" x="457.25" y="401.5" width="10" height="10" rx="1"/>
<path class="t" d="M460.25 381L460.25 411"/>
<path class="t" d="M464.25 381L464.25 411"/>
<rect class="mw" x="560.25" y="381" width="10" height="3" rx="0.8"/>
<rect class="kw" x="559.25" y="384" width="12" height="8"/>
<rect class="kw" x="559.25" y="392.5" width="12" height="9"/>
<rect class="mw" x="560.25" y="401.5" width="10" height="10" rx="1"/>
<path class="t" d="M563.25 381L563.25 411"/>
<path class="t" d="M567.25 381L567.25 411"/>
<path d="M462 388h10v10h-10z" class="mh" style="fill:url(#h3)"/>
<path d="M554 388h10v10h-10z" class="mh" style="fill:url(#h4)"/>
<path class="k" d="M468 392L559.25 392"/>
<path class="m" d="M470 389.5L557 389.5"/>
<path d="M468 392.5h13.25v50l-5 4h-8.25z" class="mh" style="fill:url(#h3)"/>
<path d="M546.25 392.5h12.5v190.5h-7.5v-140h-5z" class="mh" style="fill:url(#h3)"/>
<path d="M474 392.5h7.25v46l-7.25 -6z" class="th" style="fill:url(#h4)"/>
<path d="M546.25 392.5h5v46l-5 6z" class="th" style="fill:url(#h4)"/>
<path class="t" d="M579 372L579 420"/>
<path class="t" d="M571 385L594 385"/>
<path class="t" d="M571 392L594 392"/>
<path class="t" d="M571 398L594 398"/>
<path class="t" d="M571 403L594 403"/>
<text class="ts" x="575" y="376" font-size="5.4" textLength="4.8" lengthAdjust="spacingAndGlyphs">76</text>
<text class="ts" x="588" y="390.5" font-size="5.4" textLength="2.4" lengthAdjust="spacingAndGlyphs">3</text>
<text class="ts" x="575" y="396" font-size="5.4" textLength="4.8" lengthAdjust="spacingAndGlyphs">12</text>
<text class="ts" x="588" y="402.5" font-size="5.4" textLength="2.4" lengthAdjust="spacingAndGlyphs">5</text>
<text class="ts" x="575" y="416" font-size="5.4" textLength="4.8" lengthAdjust="spacingAndGlyphs">76</text>
<circle class="t" cx="513.7" cy="443.5" r="38"/>
<path d="M478 441.4H491L503.4 451.7L505.4 453.75H527V469.2H475Q470 469 467.25 461.55A22 22 0 1 1 478 441.4Z" class="mh" style="fill:url(#h3)"/>
<circle class="n" cx="456.25" cy="442.5" r="13" fill="url(#h4)" stroke="#505050" stroke-width="1"/>
<circle class="t" cx="456.25" cy="442.5" r="17.5"/>
<path class="n" d="M436 438a21 21 0 0 1 14 -15" fill="none" stroke="#aaa" stroke-width="2.5"/>
<path class="n" d="M441 449l6 4l-2.5 3.5l-6 -4zM461 451l5 -3.5l2 3l-5 3.5z" stroke="#333" stroke-width="1" fill="#aaa"/>
<path class="c" d="M428 442.5L485 442.5"/>
<path class="c" d="M456.25 415L456.25 545"/>
<path class="t" d="M438 458l-9 10M444 462l-9 10"/>
<text class="ts" x="426" y="462" font-size="4.73" transform="rotate(-50 426 462)" textLength="7.4" lengthAdjust="spacingAndGlyphs">10,5</text>
<text class="ts" x="436" y="472" font-size="4.73" transform="rotate(50 436 472)" textLength="4.2" lengthAdjust="spacingAndGlyphs">17</text>
<path class="t" d="M427 432l8 -8"/>
<text class="ts" x="432" y="424" font-size="4.73" textLength="2.1" lengthAdjust="spacingAndGlyphs">5</text>
<path class="m" d="M476.7 439.4L478.7 432.2L492 428L503.4 422.9H526L536.3 428L548.6 432.2L550.7 439.4Z" style="fill:url(#h1)"/>
<path class="m" d="M478 439.4l3 4h14l8 8M550 439.4l-3 4h-14l-6 6"/>
<path class="kw" d="M513.7 422.5q7.5 0 8 7.5q0 4 -2.5 7l2.8 10v22.2h-16.6v-22.2l2.8 -10q-2.5 -3 -2.5 -7q.5 -7.5 8 -7.5z"/>
<path class="m" d="M503 425h22M505.4 447h16.6"/>
<rect class="mw" x="495" y="427" width="3" height="12" rx="1"/>
<path class="c" d="M496.5 424L496.5 442"/>
<rect class="mw" x="494" y="438" width="5" height="2.5"/>
<rect class="mw" x="529.5" y="427" width="3" height="12" rx="1"/>
<path class="c" d="M531 424L531 442"/>
<rect class="mw" x="528.5" y="438" width="5" height="2.5"/>
<rect class="kw" x="504.4" y="469.8" width="18.6" height="8.6" rx="1.5"/>
<path class="m" d="M510 469.8L510 478.4"/>
<path class="m" d="M517.5 469.8L517.5 478.4"/>
<path class="m" d="M506 478.4q7.5 3 15 0"/>
<rect class="kw" x="395" y="411" width="5" height="157"/>
<rect class="kw" x="415" y="411" width="5" height="157"/>
<rect class="mw" x="400" y="415.5" width="15" height="4"/>
<rect class="mw" x="400" y="452" width="15" height="3"/>
<rect class="mw" x="400" y="488" width="15" height="4"/>
<rect class="mw" x="400" y="523" width="15" height="3"/>
<rect class="mw" x="409.5" y="403.5" width="21" height="8" rx="2"/>
<rect class="mw" x="414" y="401" width="7.5" height="13" rx="1"/>
<path class="m" d="M420 413L470 413"/>
<path class="m" d="M420 417L476 417"/>
<path class="m" d="M440 413q10 -6 28 -5"/>
<path class="k" d="M395 468.5h-13q-5.5 0 -5.5 5.5v31q0 5.5 5.5 5.5h13"/>
<path class="m" d="M395 472h-12q-3 0 -3 3v29q0 3 3 3h12"/>
<path class="c" d="M373 489.5L405 489.5"/>
<path class="t" d="M458 463q18 10 19.5 36q-1.5 26 -19.5 36.5z"/>
<path class="t" d="M458 470v58"/>
<rect class="mw" x="417.5" y="490.5" width="12.5" height="18.5" rx="2"/>
<path class="t" d="M417.5 496L430 496"/>
<path class="t" d="M417.5 503L430 503"/>
<path class="m" d="M430 493h10v-4h8v22h-8v-4h-10"/>
<path class="t" d="M448 484h8v30h-8"/>
<path class="c" d="M415 499.5L480 499.5"/>
<rect class="mw" x="395" y="559.25" width="77.5" height="5"/>
<path class="m" d="M472.5 559.25L513 559.25"/>
<path class="m" d="M472.5 564.25L513 564.25"/>
<rect class="mw" x="409.5" y="564" width="21" height="8" rx="2"/>
<rect class="mw" x="414" y="562" width="7.5" height="13" rx="1"/>
<path class="m" d="M436 559l2 5h3l2 -5"/>
<circle class="m" cx="439.5" cy="566" r="1.2"/>
<path class="t" d="M417.5 545.5L513 545.5"/>
<text class="ts" x="465" y="544" font-size="5.4" text-anchor="middle" textLength="7.2" lengthAdjust="spacingAndGlyphs">450</text>
<path class="t" d="M417.5 554.25L439 554.25"/>
<text class="ts" x="428" y="552.5" font-size="5.4" text-anchor="middle" textLength="7.2" lengthAdjust="spacingAndGlyphs">100</text>
<path class="t" d="M439 550L439 560"/>
<path class="t" d="M417.5 541L417.5 558"/>
<rect class="kw" x="468" y="564" width="7" height="19"/>
<path d="M468 564h7v19h-7z" class="mh" style="fill:url(#h3)"/>
<rect class="kw" x="475" y="583" width="76" height="3"/>
<rect class="mw" x="457.25" y="573.5" width="10" height="6.5" rx="1"/>
<rect class="kw" x="456.25" y="580" width="12" height="7"/>
<rect class="kw" x="456.25" y="587.5" width="12" height="5"/>
<rect class="mw" x="457.25" y="592.5" width="10" height="3.5" rx="0.8"/>
<path class="t" d="M460.25 573L460.25 596"/>
<path class="t" d="M464.25 573L464.25 596"/>
<rect class="mw" x="560.25" y="573.5" width="10" height="6.5" rx="1"/>
<rect class="kw" x="559.25" y="580" width="12" height="7"/>
<rect class="kw" x="559.25" y="587.5" width="12" height="5"/>
<rect class="mw" x="560.25" y="592.5" width="10" height="3.5" rx="0.8"/>
<path class="t" d="M563.25 573L563.25 596"/>
<path class="t" d="M567.25 573L567.25 596"/>
<path d="M462 580h12v6h-12z" class="mh" style="fill:url(#h3)"/>
<path d="M552 580h12v6h-12z" class="mh" style="fill:url(#h4)"/>
<rect class="kw" x="468" y="587.5" width="91.25" height="5"/>
<rect class="mw" x="472.4" y="592.5" width="5.2" height="2.5" rx="0.8"/>
<rect class="mw" x="489.4" y="592.5" width="5.2" height="2.5" rx="0.8"/>
<rect class="mw" x="510.4" y="592.5" width="5.2" height="2.5" rx="0.8"/>
<rect class="mw" x="531.4" y="592.5" width="5.2" height="2.5" rx="0.8"/>
<rect class="mw" x="548.4" y="592.5" width="5.2" height="2.5" rx="0.8"/>
<path class="t" d="M476 576L551 576"/>
<text class="ts" x="513" y="574.5" font-size="5.4" text-anchor="middle" textLength="9.8" lengthAdjust="spacingAndGlyphs">ø355</text>
<path class="t" d="M468 603.5L559.25 603.5"/>
<text class="ts" x="513" y="602" font-size="5.4" text-anchor="middle" textLength="9.8" lengthAdjust="spacingAndGlyphs">ø428</text>
<text class="ts" x="513" y="609.5" font-size="5.4" text-anchor="middle" textLength="9.8" lengthAdjust="spacingAndGlyphs">ø495</text>
<path class="t" d="M456.25 611L571.25 611"/>
<path class="t" d="M468 596L468 605"/>
<path class="t" d="M559.25 596L559.25 605"/>
<path class="t" d="M456.25 596L456.25 612"/>
<path class="t" d="M571.25 596L571.25 612"/>
<path class="t" d="M579 566L579 608"/>
<path class="t" d="M571 580.5L592 580.5"/>
<path class="t" d="M571 587L592 587"/>
<text class="ts" x="575" y="574" font-size="5.4" textLength="4.8" lengthAdjust="spacingAndGlyphs">76</text>
<text class="ts" x="588" y="584" font-size="5.4" textLength="2.4" lengthAdjust="spacingAndGlyphs">3</text>
<text class="ts" x="575" y="603" font-size="5.4" textLength="4.8" lengthAdjust="spacingAndGlyphs">76</text>
<path class="k" d="M558.75 475.5a29.8 29.8 0 1 1 0 53"/>
<path class="m" d="M558.75 484.5a22.6 22.6 0 1 1 0 35"/>
<path class="t" d="M558.75 490a18 18 0 1 1 0 24"/>
<circle class="n" cx="572.3" cy="502" r="14.4" fill="#fff" stroke="#444" stroke-width="1.8"/>
<circle class="n" cx="572.3" cy="502" r="12" fill="url(#h3)" stroke="#777" stroke-width=".6"/>
<rect class="mw" x="558.75" y="461" width="19" height="3.5"/>
<rect class="mw" x="558.75" y="419" width="19" height="3.5"/>
<path class="c" d="M555 502L612 502"/>
<path class="c" d="M572.3 468L572.3 536"/>
<path class="k" d="M584 502h7M589 499.5v5"/>
<path class="t" d="M606.25 443.5L606.25 502"/>
<path class="t" d="M552 443.5L610 443.5"/>
<text class="ts" x="604.5" y="476" font-size="5.4" transform="rotate(-90 604.5 476)" textLength="7.2" lengthAdjust="spacingAndGlyphs">380</text>
<text class="tx" x="432" y="302" font-size="10" textLength="9.5" lengthAdjust="spacingAndGlyphs">19</text>
<path class="t" d="M429 303.3L445 303.3"/>
<text class="tx" x="432" y="312.6" font-size="10" textLength="9.5" lengthAdjust="spacingAndGlyphs">80</text>
<path class="t" d="M429 313.9L445 313.9"/>
<path class="t" d="M445 303.3L445 313.9"/>
<path class="t" d="M445 303.3L457 322"/>
<text class="tx" x="432" y="339" font-size="10" textLength="9.5" lengthAdjust="spacingAndGlyphs">54</text>
<path class="t" d="M429 340.3L445 340.3"/>
<text class="tx" x="432" y="349.6" font-size="10" textLength="9.5" lengthAdjust="spacingAndGlyphs">59</text>
<path class="t" d="M429 350.9L445 350.9"/>
<path class="t" d="M445 340.3L445 350.9"/>
<path class="t" d="M445 340.3L457 337"/>
<text class="tx" x="432" y="366" font-size="10" textLength="9.5" lengthAdjust="spacingAndGlyphs">55</text>
<path class="t" d="M429 367.3L445 367.3"/>
<text class="tx" x="432" y="376.6" font-size="10" textLength="9.5" lengthAdjust="spacingAndGlyphs">59</text>
<path class="t" d="M429 377.9L445 377.9"/>
<path class="t" d="M445 367.3L445 377.9"/>
<path class="t" d="M445 367.3L457 392"/>
<text class="tx" x="375" y="372" font-size="10" textLength="9.5" lengthAdjust="spacingAndGlyphs">53</text>
<path class="t" d="M372 373.3L388 373.3"/>
<text class="tx" x="375" y="382.6" font-size="10" textLength="9.5" lengthAdjust="spacingAndGlyphs">59</text>
<path class="t" d="M372 383.9L388 383.9"/>
<path class="t" d="M388 373.3L388 383.9"/>
<path class="t" d="M388 373.3L410 408"/>
<text class="tx" x="413" y="388" font-size="10.5" textLength="6" lengthAdjust="spacingAndGlyphs">Б</text>
<path class="t" d="M411 389.5L423 389.5"/>
<path class="t" d="M423 389.5L456 410"/>
<text class="tx" x="375" y="424" font-size="10" textLength="9.5" lengthAdjust="spacingAndGlyphs">56</text>
<path class="t" d="M373 425.5L388 425.5"/>
<path class="t" d="M388 425.5L443 452"/>
<text class="tx" x="386" y="606" font-size="10" textLength="9.5" lengthAdjust="spacingAndGlyphs">28</text>
<path class="t" d="M384 607.5L399 607.5"/>
<path class="t" d="M399 607.5L439.5 566"/>
<text class="tx" x="413" y="606" font-size="10" textLength="9.5" lengthAdjust="spacingAndGlyphs">54</text>
<path class="t" d="M410 607.3L426 607.3"/>
<text class="tx" x="413" y="616.6" font-size="10" textLength="9.5" lengthAdjust="spacingAndGlyphs">59</text>
<path class="t" d="M410 617.9L426 617.9"/>
<path class="t" d="M426 607.3L426 617.9"/>
<path class="t" d="M426 607.3L457 582"/>
<text class="tx" x="439" y="606" font-size="10" textLength="9.5" lengthAdjust="spacingAndGlyphs">18</text>
<path class="t" d="M436 607.3L452 607.3"/>
<text class="tx" x="439" y="616.6" font-size="10" textLength="9.5" lengthAdjust="spacingAndGlyphs">80</text>
<path class="t" d="M436 617.9L452 617.9"/>
<path class="t" d="M452 607.3L452 617.9"/>
<path class="t" d="M452 607.3L462 590"/>
</g>
<g id="p24_secGD">
<text class="tx" x="757.5" y="349.5" font-size="10.5" text-anchor="middle" textLength="13" lengthAdjust="spacingAndGlyphs">Г-Г</text>
<text class="tx" x="623" y="353" font-size="10" textLength="9.5" lengthAdjust="spacingAndGlyphs">20</text>
<path class="t" d="M620 354.3L636 354.3"/>
<text class="tx" x="623" y="363.6" font-size="10" textLength="9.5" lengthAdjust="spacingAndGlyphs">35</text>
<path class="t" d="M620 364.9L636 364.9"/>
<path class="t" d="M636 354.3L636 364.9"/>
<path class="t" d="M636 354.3L659 395"/>
<text class="tx" x="643" y="365" font-size="10" textLength="9.5" lengthAdjust="spacingAndGlyphs">17</text>
<path class="t" d="M641 366.5L657 366.5"/>
<path class="t" d="M657 366.5L663 383"/>
<text class="tx" x="661" y="365" font-size="10" textLength="9.5" lengthAdjust="spacingAndGlyphs">27</text>
<path class="t" d="M659 366.5L675 366.5"/>
<path class="t" d="M675 366.5L675 386"/>
<text class="tx" x="679" y="365" font-size="10" textLength="9.5" lengthAdjust="spacingAndGlyphs">23</text>
<path class="t" d="M677 366.5L693 366.5"/>
<path class="t" d="M693 366.5L703 394"/>
<text class="tx" x="698" y="365" font-size="10" textLength="9.5" lengthAdjust="spacingAndGlyphs">32</text>
<path class="t" d="M696 366.5L712 366.5"/>
<path class="t" d="M712 366.5L722 396"/>
<text class="tx" x="718" y="365" font-size="10" textLength="9.5" lengthAdjust="spacingAndGlyphs">28</text>
<path class="t" d="M716 366.5L732 366.5"/>
<path class="t" d="M732 366.5L735 386"/>
<text class="tx" x="741" y="365" font-size="10" textLength="9.5" lengthAdjust="spacingAndGlyphs">12</text>
<path class="t" d="M739 366.5L755 366.5"/>
<path class="t" d="M739 366.5L737 405"/>
<text class="tx" x="762" y="365" font-size="10" textLength="9.5" lengthAdjust="spacingAndGlyphs">28</text>
<path class="t" d="M760 366.5L776 366.5"/>
<path class="t" d="M776 366.5L783 386"/>
<text class="tx" x="795" y="365" font-size="10" textLength="9.5" lengthAdjust="spacingAndGlyphs">32</text>
<path class="t" d="M793 366.5L809 366.5"/>
<path class="t" d="M793 366.5L795 396"/>
<text class="tx" x="816" y="365" font-size="10" textLength="9.5" lengthAdjust="spacingAndGlyphs">23</text>
<path class="t" d="M814 366.5L830 366.5"/>
<path class="t" d="M814 366.5L812 394"/>
<text class="tx" x="843" y="365" font-size="10" textLength="9.5" lengthAdjust="spacingAndGlyphs">27</text>
<path class="t" d="M841 366.5L857 366.5"/>
<path class="t" d="M841 366.5L840 386"/>
<text class="tx" x="862" y="365" font-size="10" textLength="9.5" lengthAdjust="spacingAndGlyphs">17</text>
<path class="t" d="M860 366.5L876 366.5"/>
<path class="t" d="M860 366.5L852 383"/>
<text class="tx" x="903" y="365" font-size="10" textLength="9.5" lengthAdjust="spacingAndGlyphs">24</text>
<path class="t" d="M901 366.5L917 366.5"/>
<path class="t" d="M901 366.5L890 398"/>
<text class="tx" x="883" y="353" font-size="10" textLength="9.5" lengthAdjust="spacingAndGlyphs">21</text>
<path class="t" d="M880 354.3L896 354.3"/>
<text class="tx" x="883" y="363.6" font-size="10" textLength="9.5" lengthAdjust="spacingAndGlyphs">35</text>
<path class="t" d="M880 364.9L896 364.9"/>
<path class="t" d="M896 354.3L896 364.9"/>
<path class="t" d="M880 354.3L864 380"/>
<path class="k" d="M690 397.5L830 397.5"/>
<path class="k" d="M690 423L830 423"/>
<path class="c" d="M625 410L935 410"/>
<rect class="mw" x="740" y="408" width="32.5" height="4" rx="2"/>
<path class="c" d="M757.5 375L757.5 455"/>
<path class="kw" d="M742.5 381h33.5v11h-33.5z"/>
<path d="M742.5 392h33.5v5.5h-33.5zM742.5 423h33.5v5h-33.5z" class="mh" style="fill:url(#h3)"/>
<path d="M748 428h21v5h-21z" class="mh" style="fill:url(#h2)"/>
<path class="m" d="M726 380q16 12 31 12M791 380q-16 12 -34 12"/>
<path class="t" d="M730 380q14 9 27 9M787 380q-14 9 -30 9"/>
<path d="M710 386h32.5v9.5h-32.5zM710 425h32.5v9h-32.5z" class="mh" style="fill:url(#h3)"/>
<path d="M713 396.2h28M713 424.3h28" stroke="#222" stroke-width="1.6" stroke-dasharray=".7 .7"/>
<path d="M776 386h32.5v9.5h-32.5zM776 425h32.5v9h-32.5z" class="mh" style="fill:url(#h3)"/>
<path d="M779 396.2h28M779 424.3h28" stroke="#222" stroke-width="1.6" stroke-dasharray=".7 .7"/>
<rect class="mw" x="703" y="393" width="4" height="4.5"/>
<rect class="mw" x="703" y="423" width="4" height="4.5"/>
<rect class="mw" x="811" y="393" width="4" height="4.5"/>
<rect class="mw" x="811" y="423" width="4" height="4.5"/>
<path class="m" d="M690 386h20M810 386h20M690 434h20M810 434h20"/>
<path class="t" d="M697 386v11M697 423v11"/>
<path class="m" d="M712 436q40 6 92 0q20 -2 22 12"/>
<path class="t" d="M716 438h86"/>
<path d="M657.5 381h12l3 -4h10l7 6v14h-6v-9h-20v-4zM657.5 439h12l3 3h10l7 -5v-14h-6v9h-20v4z" class="kh" style="fill:url(#h3)"/>
<path class="kw" d="M659.5 391q-2 0 -2 2v34q0 2 2 2h6v-38z"/>
<path class="m" d="M665 394q5 16 0 32"/>
<path class="t" d="M668 394q4 16 0 32"/>
<rect class="kw" x="671" y="391" width="17" height="9"/>
<rect class="kw" x="671" y="420" width="17" height="9"/>
<circle class="m" cx="676" cy="395.5" r="3"/>
<circle class="m" cx="683" cy="395.5" r="3"/>
<circle class="m" cx="676" cy="424.5" r="3"/>
<circle class="m" cx="683" cy="424.5" r="3"/>
<path class="mw" d="M660 378.75h8v3h-8zM660 438h8v3h-8z"/>
<path class="c" d="M655 379.5L700 379.5"/>
<path class="c" d="M655 440L700 440"/>
<path class="n" d="M672 384h6M672 436h6" stroke="#222" stroke-width="1.5"/>
<path d="M860 381h-12l-3 -4h-10l-5 6v14h6v-9h20v-4zM860 439h-12l-3 3h-10l-5 -5v-14h6v9h20v4z" class="kh" style="fill:url(#h3)"/>
<rect class="kw" x="833" y="391" width="17" height="9"/>
<rect class="kw" x="833" y="420" width="17" height="9"/>
<circle class="m" cx="838" cy="395.5" r="3"/>
<circle class="m" cx="845" cy="395.5" r="3"/>
<circle class="m" cx="838" cy="424.5" r="3"/>
<circle class="m" cx="845" cy="424.5" r="3"/>
<rect class="kw" x="851" y="391" width="8" height="7"/>
<rect class="kw" x="851" y="422" width="8" height="7"/>
<path class="mw" d="M852 378.75h8v3h-8zM852 438h8v3h-8z"/>
<path class="n" d="M843 384h6M843 436h6" stroke="#222" stroke-width="1.5"/>
<path class="c" d="M828 379.5L866 379.5"/>
<path class="c" d="M828 440L866 440"/>
<path class="m" d="M862 376v8M862 436v8l-4 3"/>
<rect class="kw" x="860" y="394" width="40" height="32"/>
<path class="m" d="M862 391l38 6M862 429h38"/>
<rect class="mw" x="860" y="406.5" width="37" height="6" rx="3"/>
<path d="M867 384h30l8 5v5h-38zM867 426h38v5l-8 5h-30z" class="mh" style="fill:url(#h2)"/>
<rect class="kw" x="900" y="398" width="4" height="24"/>
<rect class="kw" x="904" y="400" width="3" height="20"/>
<rect class="kw" x="907" y="401.5" width="3" height="17"/>
<path class="n" d="M901 398v24" stroke="#222" stroke-width="1.6" stroke-dasharray="1 1"/>
<text class="ts" x="897" y="380.5" font-size="5.13" textLength="11.1" lengthAdjust="spacingAndGlyphs">▷1:20</text>
<path class="t" d="M896 382L912 382"/>
<path class="t" d="M896 382L888 396"/>
<path class="t" d="M920 399L920 421"/>
<path class="t" d="M908 399L923 399"/>
<path class="t" d="M908 421L923 421"/>
<text class="ts" x="918.5" y="418" font-size="4.73" transform="rotate(-90 918.5 418)" textLength="11.4" lengthAdjust="spacingAndGlyphs">М90х2</text>
<path class="t" d="M637.5 386L637.5 434"/>
<path class="t" d="M635.5 386L660 386"/>
<path class="t" d="M635.5 434L660 434"/>
<text class="ts" x="636" y="422" font-size="4.59" transform="rotate(-90 636 422)" textLength="18.3" lengthAdjust="spacingAndGlyphs">ø225H9/h8</text>
<path class="t" d="M646 389L646 431"/>
<path class="t" d="M644 389L660 389"/>
<path class="t" d="M644 431L660 431"/>
<text class="ts" x="644.5" y="422" font-size="4.59" transform="rotate(-90 644.5 422)" textLength="13.2" lengthAdjust="spacingAndGlyphs">ø200H7</text>
<path class="t" d="M653.75 397L653.75 423"/>
<path class="t" d="M651.75 397L660 397"/>
<path class="t" d="M651.75 423L660 423"/>
<text class="ts" x="652.25" y="422" font-size="4.59" transform="rotate(-90 652.25 422)" textLength="13.2" lengthAdjust="spacingAndGlyphs">М105х2</text>
<path class="t" d="M679 397.5L679 423"/>
<text class="ts" x="677.8" y="421" font-size="4.46" transform="rotate(-90 677.8 421)" textLength="11.7" lengthAdjust="spacingAndGlyphs">ø110k6</text>
<path class="t" d="M707 397.5L707 423"/>
<text class="ts" x="705.8" y="421" font-size="4.46" transform="rotate(-90 705.8 421)" textLength="21.8" lengthAdjust="spacingAndGlyphs">ø150H10/h12</text>
<path class="t" d="M770 397.5L770 423"/>
<text class="ts" x="768.8" y="421" font-size="4.46" transform="rotate(-90 768.8 421)" textLength="17.6" lengthAdjust="spacingAndGlyphs">ø160H7/k6</text>
<path class="t" d="M803 397.5L803 423"/>
<text class="ts" x="801.8" y="421" font-size="4.46" transform="rotate(-90 801.8 421)" textLength="21.8" lengthAdjust="spacingAndGlyphs">ø150H10/h12</text>
<path class="t" d="M822 397.5L822 423"/>
<text class="ts" x="820.8" y="421" font-size="4.46" transform="rotate(-90 820.8 421)" textLength="17.8" lengthAdjust="spacingAndGlyphs">ø225H9/h8</text>
<path class="t" d="M842 397.5L842 423"/>
<text class="ts" x="840.8" y="421" font-size="4.46" transform="rotate(-90 840.8 421)" textLength="11.7" lengthAdjust="spacingAndGlyphs">ø110k6</text>
<path class="t" d="M853 397.5L853 423"/>
<text class="ts" x="851.8" y="421" font-size="4.46" transform="rotate(-90 851.8 421)" textLength="12.8" lengthAdjust="spacingAndGlyphs">ø200H7</text>
<path class="t" d="M710 442.5L810 442.5"/>
<text class="ts" x="759.5" y="441.5" font-size="5.4" text-anchor="middle" textLength="7.2" lengthAdjust="spacingAndGlyphs">465</text>
<path class="t" d="M677 455L843 455"/>
<text class="ts" x="717" y="453.5" font-size="5.4" text-anchor="middle" textLength="10.8" lengthAdjust="spacingAndGlyphs">310,5</text>
<text class="ts" x="800" y="453.5" font-size="5.4" text-anchor="middle" textLength="10.8" lengthAdjust="spacingAndGlyphs">310,5</text>
<path class="t" d="M668 464L852 464"/>
<text class="ts" x="759.5" y="462.5" font-size="5.4" text-anchor="middle" textLength="7.2" lengthAdjust="spacingAndGlyphs">860</text>
<path class="t" d="M710 436L710 444"/>
<path class="t" d="M810 436L810 444"/>
<path class="t" d="M677 430L677 457"/>
<path class="t" d="M843 430L843 457"/>
<path class="t" d="M668 442L668 466"/>
<path class="t" d="M852 442L852 466"/>
<path class="t" d="M759.5 448L759.5 457"/>
<text class="tx" x="625" y="476" font-size="10" textLength="9.5" lengthAdjust="spacingAndGlyphs">52</text>
<path class="t" d="M622 477.3L638 477.3"/>
<text class="tx" x="625" y="486.6" font-size="10" textLength="9.5" lengthAdjust="spacingAndGlyphs">66</text>
<path class="t" d="M622 487.9L638 487.9"/>
<path class="t" d="M638 477.3L638 487.9"/>
<path class="t" d="M638 477.3L660 440"/>
<text class="tx" x="646" y="476" font-size="10" textLength="9.5" lengthAdjust="spacingAndGlyphs">62</text>
<path class="t" d="M643 477.3L659 477.3"/>
<text class="tx" x="646" y="486.6" font-size="10" textLength="9.5" lengthAdjust="spacingAndGlyphs">68</text>
<path class="t" d="M643 487.9L659 487.9"/>
<path class="t" d="M659 477.3L659 487.9"/>
<path class="t" d="M643 477.3L664 440"/>
<text class="tx" x="690" y="476" font-size="10" textLength="9.5" lengthAdjust="spacingAndGlyphs">65</text>
<path class="t" d="M688 477.5L704 477.5"/>
<path class="t" d="M688 477.5L678 442"/>
<text class="tx" x="721" y="476" font-size="10" textLength="9.5" lengthAdjust="spacingAndGlyphs">75</text>
<path class="t" d="M719 477.5L735 477.5"/>
<path class="t" d="M735 477.5L745 412"/>
<text class="tx" x="818" y="476" font-size="10" textLength="9.5" lengthAdjust="spacingAndGlyphs">65</text>
<path class="t" d="M816 477.5L832 477.5"/>
<path class="t" d="M832 477.5L842 442"/>
<text class="tx" x="896" y="476" font-size="10" textLength="9.5" lengthAdjust="spacingAndGlyphs">73</text>
<path class="t" d="M894 477.5L910 477.5"/>
<path class="t" d="M894 477.5L872 412"/>
<text class="tx" x="916" y="476" font-size="10" textLength="9.5" lengthAdjust="spacingAndGlyphs">61</text>
<path class="t" d="M914 477.5L930 477.5"/>
<path class="t" d="M914 477.5L906 422"/>
<text class="tx" x="872" y="476" font-size="10" textLength="9.5" lengthAdjust="spacingAndGlyphs">52</text>
<path class="t" d="M869 477.3L885 477.3"/>
<text class="tx" x="872" y="486.6" font-size="10" textLength="9.5" lengthAdjust="spacingAndGlyphs">66</text>
<path class="t" d="M869 487.9L885 487.9"/>
<path class="t" d="M885 477.3L885 487.9"/>
<path class="t" d="M869 477.3L860 442"/>
<text class="tx" x="780" y="499.5" font-size="10.5" text-anchor="middle" textLength="14" lengthAdjust="spacingAndGlyphs">Д-Д</text>
<text class="ts" x="799" y="501.5" font-size="5.4" textLength="7.2" lengthAdjust="spacingAndGlyphs">620</text>
<path class="t" d="M732.5 503.75L865 503.75"/>
<path class="t" d="M732.5 510.75L865 510.75"/>
<path class="t" d="M743 517.5L855 517.5"/>
<text class="ts" x="758" y="509" font-size="5.4" text-anchor="middle" textLength="7.2" lengthAdjust="spacingAndGlyphs">245</text>
<text class="ts" x="825" y="509" font-size="5.4" text-anchor="middle" textLength="7.2" lengthAdjust="spacingAndGlyphs">375</text>
<text class="ts" x="763" y="516" font-size="5.4" text-anchor="middle" textLength="10.8" lengthAdjust="spacingAndGlyphs">198,5</text>
<text class="ts" x="820" y="516" font-size="5.4" text-anchor="middle" textLength="10.8" lengthAdjust="spacingAndGlyphs">328,5</text>
<path class="t" d="M732.5 501L732.5 526"/>
<path class="t" d="M865 501L865 526"/>
<path class="c" d="M785 508L785 620"/>
<path class="t" d="M743 515L743 524"/>
<path class="t" d="M855 515L855 524"/>
<path class="t" d="M620 525L720 525"/>
<path class="t" d="M620 522L620 542"/>
<path class="t" d="M642 522L642 542"/>
<path class="t" d="M720 522L720 540"/>
<text class="ts" x="627" y="523" font-size="5.4" textLength="7.2" lengthAdjust="spacingAndGlyphs">105</text>
<text class="ts" x="675" y="523" font-size="5.4" textLength="7.2" lengthAdjust="spacingAndGlyphs">367</text>
<rect class="kw" x="620" y="540" width="22" height="21.75" rx="1"/>
<rect class="kw" x="642" y="540" width="84" height="21.75"/>
<rect class="mw" x="667.5" y="548.5" width="51" height="4.5" rx="2.2"/>
<path class="c" d="M612 550.75L935 550.75"/>
<path class="t" d="M616 540L616 561.75"/>
<text class="ts" x="614.5" y="557" font-size="4.73" transform="rotate(-90 614.5 557)" textLength="6.6" lengthAdjust="spacingAndGlyphs">ø96</text>
<text class="ts" x="659" y="558" font-size="4.46" transform="rotate(-90 659 558)" textLength="11.2" lengthAdjust="spacingAndGlyphs">ø100f7</text>
<text class="ts" x="717" y="558" font-size="4.46" transform="rotate(-90 717 558)" textLength="12.8" lengthAdjust="spacingAndGlyphs">ø215H7</text>
<path class="t" d="M661 540L661 561.75"/>
<path class="t" d="M719 536L719 566"/>
<rect class="kw" x="746" y="532.5" width="104" height="35"/>
<path class="m" d="M750 538.75L846 538.75"/>
<path class="m" d="M750 562.5L846 562.5"/>
<rect class="mw" x="746" y="536" width="4" height="28"/>
<rect class="mw" x="846" y="536" width="4" height="28"/>
<path class="t" d="M813 539L813 562"/>
<text class="ts" x="811.5" y="556" font-size="4.73" transform="rotate(-90 811.5 556)" textLength="8.4" lengthAdjust="spacingAndGlyphs">ø112</text>
<path class="k" d="M783 531l2 3l2 -3z"/>
<path d="M726 520h29v12h-29zM726 570h29v12h-29z" class="kh" style="fill:url(#h3)"/>
<rect class="kw" x="726" y="532" width="29" height="38"/>
<rect class="kw" x="731" y="532" width="10" height="9"/>
<rect class="kw" x="731" y="561" width="10" height="9"/>
<circle class="m" cx="736" cy="536.5" r="3.3"/>
<circle class="m" cx="736" cy="565.5" r="3.3"/>
<path class="n" d="M729 518v6M729 578v8" stroke="#222" stroke-width="1.5"/>
<rect class="mw" x="726.5" y="516" width="3" height="4"/>
<rect class="mw" x="726.5" y="582" width="3" height="4"/>
<path class="m" d="M726 540.5L755 540.5"/>
<path class="m" d="M726 561L755 561"/>
<path d="M842 520h29v12h-29zM842 570h29v12h-29z" class="kh" style="fill:url(#h3)"/>
<rect class="kw" x="842" y="532" width="29" height="38"/>
<rect class="kw" x="856" y="532" width="10" height="9"/>
<rect class="kw" x="856" y="561" width="10" height="9"/>
<circle class="m" cx="861" cy="536.5" r="3.3"/>
<circle class="m" cx="861" cy="565.5" r="3.3"/>
<path class="n" d="M868 518v6M868 578v8" stroke="#222" stroke-width="1.5"/>
<rect class="mw" x="867.5" y="516" width="3" height="4"/>
<rect class="mw" x="867.5" y="582" width="3" height="4"/>
<path class="m" d="M842 540.5L871 540.5"/>
<path class="m" d="M842 561L871 561"/>
<path class="m" d="M755 524l-8 -4M755 578l-8 4M843 524l8 -4M843 578l8 4"/>
<text class="ts" x="735" y="557" font-size="4.46" transform="rotate(-90 735 557)" textLength="12" lengthAdjust="spacingAndGlyphs">ø100k6</text>
<text class="ts" x="857" y="557" font-size="4.46" transform="rotate(-90 857 557)" textLength="12" lengthAdjust="spacingAndGlyphs">ø100k6</text>
<path class="t" d="M736.5 540L736.5 562"/>
<path class="t" d="M858.5 540L858.5 562"/>
<path d="M747.8 584A45 45 0 0 1 828.8 594L822.5 594A39 39 0 0 0 754.7 584.5Z" fill="url(#h3)" stroke="#505050" stroke-width="1"/>
<path class="m" d="M744 582l4 2M826 584l12 -1v10l-8 6"/>
<path d="M829 596l7 -5v-5l-7 1z" class="mh" style="fill:url(#h2)"/>
<path class="m" d="M838 572v12"/>
<rect class="kw" x="871" y="540" width="29" height="21.75"/>
<rect class="mw" x="868" y="547.5" width="26" height="6" rx="3"/>
<path d="M877 523h22v17h-22zM877 562h22v5h-22z" class="mh" style="fill:url(#h2)"/>
<rect class="kw" x="900" y="538" width="3.5" height="26"/>
<rect class="kw" x="903.5" y="539.5" width="3" height="23"/>
<rect class="kw" x="906.5" y="541" width="3" height="20"/>
<path class="n" d="M901 538v26" stroke="#222" stroke-width="1.6" stroke-dasharray="1 1"/>
<text class="ts" x="897" y="517.5" font-size="5.13" textLength="11.1" lengthAdjust="spacingAndGlyphs">▷1:20</text>
<path class="t" d="M896 519L912 519"/>
<path class="t" d="M896 519L887 538"/>
<path class="t" d="M919 541L919 561"/>
<path class="t" d="M930 529L930 574"/>
<path class="t" d="M900 529L932 529"/>
<path class="t" d="M900 574L932 574"/>
<text class="ts" x="917.5" y="558" font-size="4.46" transform="rotate(-90 917.5 558)" textLength="10.8" lengthAdjust="spacingAndGlyphs">М90х2</text>
<text class="ts" x="928.5" y="560" font-size="4.46" transform="rotate(-90 928.5 560)" textLength="12.8" lengthAdjust="spacingAndGlyphs">ø215H7</text>
<text class="tx" x="632" y="606" font-size="10" textLength="9.5" lengthAdjust="spacingAndGlyphs">74</text>
<path class="t" d="M630 607.5L646 607.5"/>
<path class="t" d="M646 607.5L676 551"/>
<text class="tx" x="663" y="606" font-size="10" textLength="9.5" lengthAdjust="spacingAndGlyphs">29</text>
<path class="t" d="M661 607.5L677 607.5"/>
<path class="t" d="M677 607.5L718 566"/>
<text class="tx" x="752" y="606" font-size="10" textLength="9.5" lengthAdjust="spacingAndGlyphs">26</text>
<path class="t" d="M750 607.5L766 607.5"/>
<path class="t" d="M750 607.5L742 584"/>
<text class="tx" x="778" y="606" font-size="10" textLength="9.5" lengthAdjust="spacingAndGlyphs">64</text>
<path class="t" d="M776 607.5L792 607.5"/>
<path class="t" d="M776 607.5L760 586"/>
<text class="tx" x="801" y="606" font-size="10" textLength="9.5" lengthAdjust="spacingAndGlyphs">63</text>
<path class="t" d="M799 607.5L815 607.5"/>
<path class="t" d="M799 607.5L785 535"/>
<text class="tx" x="823" y="606" font-size="10" textLength="9.5" lengthAdjust="spacingAndGlyphs">64</text>
<path class="t" d="M821 607.5L837 607.5"/>
<path class="t" d="M837 607.5L836 590"/>
<text class="tx" x="843" y="606" font-size="10" textLength="9.5" lengthAdjust="spacingAndGlyphs">25</text>
<path class="t" d="M841 607.5L857 607.5"/>
<path class="t" d="M857 607.5L850 584"/>
<text class="tx" x="912" y="606" font-size="10" textLength="9.5" lengthAdjust="spacingAndGlyphs">72</text>
<path class="t" d="M910 607.5L926 607.5"/>
<path class="t" d="M910 607.5L903 560"/>
<text class="tx" x="932" y="606" font-size="10" textLength="9.5" lengthAdjust="spacingAndGlyphs">61</text>
<path class="t" d="M930 607.5L946 607.5"/>
<path class="t" d="M930 607.5L908 558"/>
<text class="tx" x="696" y="606" font-size="10" textLength="9.5" lengthAdjust="spacingAndGlyphs">51</text>
<path class="t" d="M693 607.3L709 607.3"/>
<text class="tx" x="696" y="616.6" font-size="10" textLength="9.5" lengthAdjust="spacingAndGlyphs">66</text>
<path class="t" d="M693 617.9L709 617.9"/>
<path class="t" d="M709 607.3L709 617.9"/>
<path class="t" d="M709 607.3L728 584"/>
<text class="tx" x="723" y="606" font-size="10" textLength="9.5" lengthAdjust="spacingAndGlyphs">22</text>
<path class="t" d="M720 607.3L736 607.3"/>
<text class="tx" x="723" y="616.6" font-size="10" textLength="9.5" lengthAdjust="spacingAndGlyphs">34</text>
<path class="t" d="M720 617.9L736 617.9"/>
<path class="t" d="M736 607.3L736 617.9"/>
<path class="t" d="M736 607.3L736 570"/>
<text class="tx" x="865" y="606" font-size="10" textLength="9.5" lengthAdjust="spacingAndGlyphs">22</text>
<path class="t" d="M862 607.3L878 607.3"/>
<text class="tx" x="865" y="616.6" font-size="10" textLength="9.5" lengthAdjust="spacingAndGlyphs">34</text>
<path class="t" d="M862 617.9L878 617.9"/>
<path class="t" d="M878 607.3L878 617.9"/>
<path class="t" d="M862 607.3L862 570"/>
<text class="tx" x="887" y="606" font-size="10" textLength="9.5" lengthAdjust="spacingAndGlyphs">51</text>
<path class="t" d="M884 607.3L900 607.3"/>
<text class="tx" x="887" y="616.6" font-size="10" textLength="9.5" lengthAdjust="spacingAndGlyphs">66</text>
<path class="t" d="M884 617.9L900 617.9"/>
<path class="t" d="M900 607.3L900 617.9"/>
<path class="t" d="M884 607.3L870 584"/>
</g>
<g id="p25_details">
<circle class="n" cx="693.7" cy="309.25" r="25" fill="#fff" stroke="#666" stroke-width="1.6"/>
<circle class="c" cx="693.7" cy="309.25" r="16.4"/>
<circle class="m" cx="693.7" cy="309.25" r="6"/>
<circle class="m" cx="693.7" cy="309.25" r="3"/>
<circle class="t" cx="693.7" cy="309.25" r="1.2"/>
<circle class="n" cx="702.4" cy="294.3" r="3.3" fill="#fff" stroke="#555" stroke-width="1.2"/>
<circle class="t" cx="702.4" cy="294.3" r="1.8"/>
<circle class="n" cx="676.6" cy="309.25" r="3.3" fill="#fff" stroke="#555" stroke-width="1.2"/>
<circle class="t" cx="676.6" cy="309.25" r="1.8"/>
<circle class="n" cx="702.4" cy="324.2" r="3.3" fill="#fff" stroke="#555" stroke-width="1.2"/>
<circle class="t" cx="702.4" cy="324.2" r="1.8"/>
<path class="c" d="M664 309.25L724 309.25"/>
<path class="c" d="M693.7 281L693.7 337"/>
<path class="t" d="M683 320L706 291"/>
<path class="t" d="M670 301L684 318"/>
<path class="t" d="M652 296.5L668 296.5"/>
<path class="t" d="M668 296.5L672 302"/>
<text class="ts" x="654" y="295" font-size="4.86" textLength="7.6" lengthAdjust="spacingAndGlyphs">М12</text>
<text class="ts" x="653" y="302.5" font-size="4.86" textLength="11.8" lengthAdjust="spacingAndGlyphs">3 отв.</text>
<path class="t" d="M706 291L713 289"/>
<path class="t" d="M713 289L727 289"/>
<text class="ts" x="716" y="287.5" font-size="4.86" textLength="6.7" lengthAdjust="spacingAndGlyphs">ø64</text>
<text class="tx" x="787" y="268" font-size="10.5" text-anchor="middle" textLength="27" lengthAdjust="spacingAndGlyphs">И-И(1:2)</text>
<path d="M775 278h26.2v18.5h-26.2q-2 -6 0 -10q2 -4 0 -8.5z" class="mh" style="fill:url(#h3)"/>
<path class="m" d="M775 296.5h23v16h-22q-3 -8 -1 -16z" style="fill:#d0d0d0"/>
<path class="kw" d="M779 278l3.5 4.5v31h11.2v-31l3.5 -4.5z"/>
<path class="c" d="M788 276L788 332"/>
<circle class="m" cx="788" cy="279.5" r="0.9"/>
<rect class="kw" x="779.5" y="314.5" width="17.2" height="9.5" rx="1"/>
<path class="m" d="M784 314.5L784 324"/>
<path class="m" d="M792 314.5L792 324"/>
<rect class="mw" x="783" y="324" width="10.5" height="3"/>
<path class="k" d="M781 324l1.5 6"/>
<path class="t" d="M776 333.9L809 333.9"/>
<path class="t" d="M782.5 326L782.5 336"/>
<path class="t" d="M793.7 326L793.7 336"/>
<text class="ts" x="798" y="332.5" font-size="4.86" textLength="7.6" lengthAdjust="spacingAndGlyphs">М20</text>
<text class="tx" x="812" y="286" font-size="10" textLength="9.5" lengthAdjust="spacingAndGlyphs">57</text>
<text class="tx" x="812" y="296.5" font-size="10" textLength="9.5" lengthAdjust="spacingAndGlyphs">59</text>
<path class="t" d="M810 287.5L826 287.5"/>
<path class="t" d="M810 298L826 298"/>
<path class="t" d="M810 287.5L810 298"/>
<path class="t" d="M810 293L788 306"/>
<text class="tx" x="985.4" y="325.5" font-size="10.5" text-anchor="middle" textLength="26" lengthAdjust="spacingAndGlyphs">Е-Е(1:1)</text>
<path d="M956.6 348.8h51q6 8 0 17q-6 9 0 17.2h-51q6 -8 0 -17.2q-6 -9 0 -17z" class="mh" style="fill:url(#h1)"/>
<path d="M956.6 386.4h51q6 8 0 16q-6 8 0 16.1h-51q6 -8 0 -16.1q-6 -8 0 -16z" class="mh" style="fill:url(#h1)"/>
<rect class="kw" x="977.6" y="348.8" width="11.1" height="74.2" rx="1"/>
<path class="c" d="M983.2 340L983.2 426"/>
<circle class="k" cx="983.2" cy="378" r="0.8"/>
<path class="t" d="M952 348.8L952 423"/>
<path class="t" d="M950 348.8L978 348.8"/>
<path class="t" d="M950 423L978 423"/>
<text class="ts" x="950.5" y="390" font-size="4.86" transform="rotate(-90 950.5 390)" textLength="5.9" lengthAdjust="spacingAndGlyphs">30*</text>
<path class="t" d="M959 336.5L996 336.5"/>
<path class="t" d="M977.6 334L977.6 349"/>
<path class="t" d="M988.7 334L988.7 349"/>
<text class="ts" x="963" y="335" font-size="4.86" textLength="6.7" lengthAdjust="spacingAndGlyphs">ø10</text>
<text class="ts" x="960" y="342.5" font-size="4.86" textLength="11.8" lengthAdjust="spacingAndGlyphs">2 отв.</text>
<text class="ts" x="1001" y="339" font-size="4.86" textLength="10.5" lengthAdjust="spacingAndGlyphs">◁1:50</text>
<path class="t" d="M1000 340.5L1016 340.5"/>
<path class="t" d="M1000 340.5L979 362"/>
<text class="ts" x="987.5" y="344" font-size="4.86" transform="rotate(-80 987.5 344)" textLength="4.3" lengthAdjust="spacingAndGlyphs">25</text>
<text class="tx" x="1012" y="358.5" font-size="10" textLength="9.5" lengthAdjust="spacingAndGlyphs">76</text>
<path class="t" d="M1010 360L1024.5 360"/>
<path class="t" d="M1010 360L983.2 378"/>
<text class="tx" x="1069.5" y="355.5" font-size="10.5" text-anchor="middle" textLength="29" lengthAdjust="spacingAndGlyphs">Ж-Ж(1:2)</text>
<path class="t" d="M1059 363h24q2.5 0 2.5 2.5v38q0 2.5 -2.5 2.5h-24q-2.5 0 -2.5 -2.5v-38q0 -2.5 2.5 -2.5z"/>
<path class="m" d="M1058 368h5v32h-5zM1075 368h8l2 32h-10z" style="fill:#d4d4d4"/>
<rect class="kw" x="1063" y="364" width="12" height="37" rx="1"/>
<path class="c" d="M1069 360L1069 408"/>
<rect class="mw" x="1060" y="401.5" width="16" height="2.5" rx="1"/>
<rect class="mw" x="1063" y="404" width="12" height="2.5" rx="1"/>
<path class="t" d="M1090.6 368L1090.6 400"/>
<path class="t" d="M1075 368L1093 368"/>
<path class="t" d="M1075 384L1093 384"/>
<path class="t" d="M1075 400L1093 400"/>
<text class="ts" x="1089.5" y="378" font-size="4.59" transform="rotate(-90 1089.5 378)" textLength="4.1" lengthAdjust="spacingAndGlyphs">10</text>
<text class="ts" x="1089.5" y="394" font-size="4.59" transform="rotate(-90 1089.5 394)" textLength="4.1" lengthAdjust="spacingAndGlyphs">10</text>
<path class="t" d="M1049 375L1076 375"/>
<text class="ts" x="1050" y="373.5" font-size="4.86" textLength="6.7" lengthAdjust="spacingAndGlyphs">ø20</text>
<text class="tx" x="1051" y="420" font-size="10" textLength="9.5" lengthAdjust="spacingAndGlyphs">31</text>
<path class="t" d="M1049 421.5L1063.5 421.5"/>
<path class="t" d="M1063.5 421.5L1066 403"/>
<text class="tx" x="1085" y="420" font-size="10" textLength="9.5" lengthAdjust="spacingAndGlyphs">67</text>
<text class="tx" x="1085" y="430.5" font-size="10" textLength="9.5" lengthAdjust="spacingAndGlyphs">70</text>
<path class="t" d="M1083 421.5L1099 421.5"/>
<path class="t" d="M1083 432L1099 432"/>
<path class="t" d="M1083 421.5L1083 432"/>
<path class="t" d="M1083 421.5L1071 405"/>
<text class="tx" x="1153.7" y="373" font-size="10.5" text-anchor="middle" textLength="28" lengthAdjust="spacingAndGlyphs">К-К(1:2)</text>
<circle class="t" cx="1162" cy="407.6" r="25.5"/>
<circle class="n" cx="1162" cy="407.6" r="22.2" fill="url(#h1)" stroke="#333" stroke-width="1.4"/>
<rect class="m" x="1155.4" y="383" width="12.3" height="7.3" style="fill:#eee"/>
<path class="c" d="M1134 407.6L1190 407.6"/>
<path class="c" d="M1162 379L1162 436"/>
<path class="t" d="M1150 378L1182 378"/>
<path class="t" d="M1155.4 375L1155.4 384"/>
<path class="t" d="M1167.7 375L1167.7 384"/>
<text class="ts" x="1173" y="376.5" font-size="4.86" textLength="4.3" lengthAdjust="spacingAndGlyphs">28</text>
<path class="t" d="M1195.7 383.7L1195.7 429"/>
<path class="t" d="M1167 383.7L1198 383.7"/>
<path class="t" d="M1168 429L1198 429"/>
<text class="ts" x="1194.3" y="410" font-size="4.86" transform="rotate(-90 1194.3 410)" textLength="6.5" lengthAdjust="spacingAndGlyphs">106</text>
<defs><linearGradient id="ph" x1="0" x2="1" y1="0" y2="1"><stop offset="0" stop-color="#6e6e6e"/><stop offset=".5" stop-color="#5c5c5c"/><stop offset="1" stop-color="#484848"/></linearGradient><linearGradient id="ph2" x1="0" x2="1" y1="0" y2="0"><stop offset="0" stop-color="#9a9a9a"/><stop offset="1" stop-color="#5a5a5a"/></linearGradient></defs>
<rect class="n" x="1244.3" y="368.2" width="68.7" height="68.7" fill="url(#ph)"/>
<path d="M1254 376L1313 372L1313 384L1290 382L1254 382Z" fill="#7a7a7a"/>
<path d="M1244.3 368.2L1253 368.2L1253 436.9L1244.3 436.9Z" fill="#666"/>
<path d="M1244.3 372L1250 372L1250 380L1244.3 380Z" fill="#333"/>
<path d="M1296 390L1313 384L1313 420L1300 424Z" fill="#555"/>
<path class="n" d="M1268.5 374.2Q1292 374 1304.8 402L1297.7 397.7Q1284 394 1265.6 393.5Z" fill="#303030"/>
<path d="M1275 402L1296 400L1305 410L1305 424L1292 432L1275 430Z" fill="url(#ph2)"/>
<circle class="n" cx="1268" cy="414" r="13" fill="#606060"/>
<path d="M1246.4 401L1262 404L1266 416L1252 418L1246.4 413Z" fill="#a4a4a4"/>
<ellipse class="n" cx="1247.5" cy="407" rx="2.2" ry="7" fill="#8a8a8a"/>
<circle class="n" cx="1274.9" cy="415.5" r="11.4" fill="#9a9a9a"/>
<circle class="n" cx="1274.9" cy="415.5" r="7.8" fill="#b8b8b8"/>
<circle class="n" cx="1274.9" cy="415.5" r="0.8" fill="#333"/>
<circle class="n" cx="1283.92" cy="418.783" r="1" fill="#ddd"/>
<circle class="n" cx="1278.96" cy="424.201" r="1" fill="#ddd"/>
<circle class="n" cx="1271.62" cy="424.521" r="1" fill="#ddd"/>
<circle class="n" cx="1266.2" cy="419.557" r="1" fill="#ddd"/>
<circle class="n" cx="1265.88" cy="412.217" r="1" fill="#ddd"/>
<circle class="n" cx="1270.84" cy="406.799" r="1" fill="#ddd"/>
<circle class="n" cx="1278.18" cy="406.479" r="1" fill="#ddd"/>
<circle class="n" cx="1283.6" cy="411.443" r="1" fill="#ddd"/>
<circle class="n" cx="1266.5" cy="394.5" r="1.2" fill="#ddd"/>
<text class="tx" x="1245" y="362" font-size="10" textLength="9.5" lengthAdjust="spacingAndGlyphs">26</text>
<path class="t" d="M1243 363.5L1257.5 363.5"/>
<path class="t" d="M1257.5 363.5L1266 393"/>
<text class="tx" x="1286" y="362" font-size="10" textLength="9.5" lengthAdjust="spacingAndGlyphs">27</text>
<path class="t" d="M1284 363.5L1298.5 363.5"/>
<path class="t" d="M1284 363.5L1282 393"/>
<text class="tx" x="1034" y="454" font-size="10.5" text-anchor="middle" textLength="26" lengthAdjust="spacingAndGlyphs">Б(1:2,5)</text>
<text class="ts" x="1060" y="451.5" font-size="4.86" textLength="19" lengthAdjust="spacingAndGlyphs">ø85H11/h9</text>
<path class="t" d="M1058 453L1082 453"/>
<path class="t" d="M1058 453L1028 507"/>
<text class="ts" x="998" y="453.5" font-size="5.4" textLength="2.9" lengthAdjust="spacingAndGlyphs">Л</text>
<path class="t" d="M996 455L1004 455"/>
<path class="t" d="M1004 455L1017 480"/>
<path class="t" d="M962 500q-2 -30 18 -36h108q24 6 24 34q0 10 -8 14q-36 8 -40 40q-2 16 -6 24q-10 10 -28 8"/>
<path d="M964 494.4l9 -13.9l13.8 -2.5l29.2 -12.7h40.5l27.8 12.7l17.7 2.5l11.4 13.9l-3.8 5.1h-145.6z" class="mh" style="fill:url(#h1)"/>
<path class="m" d="M964 494.4l6 -28M1113.4 494.4l-6 -28M973 480.5l-3 -14M1102 480.5l3 -14"/>
<path class="t" d="M966 466v26M969 466v22M1108 466v22M1111 466v26"/>
<path d="M961.5 504.5h25.3l34.2 21.5h41.8v30.5h-74.8q-22 -20 -26.5 -52z" class="mh" style="fill:url(#h2)"/>
<path class="m" d="M1016 473H1058.5V490.6H1078V499.5H1062L1056 510V526H1019V510L1013 499.5H995.7V490.6H1016Z" style="fill:#bcbcbc"/>
<path class="m" d="M1021 477.5H1054V500L1051.4 503V526H1023.5V503L1021 500Z" style="fill:#fff"/>
<path class="kw" d="M1024 503V490A13.6 13.6 0 0 1 1051 490V503L1050 557.7H1025Z"/>
<path class="c" d="M1037.5 458L1037.5 590"/>
<path class="m" d="M1024 527L1051 527"/>
<circle class="k" cx="1037.5" cy="537" r="0.8"/>
<path class="t" d="M1026 507L1049 484"/>
<rect class="mw" x="1002" y="476" width="5" height="25" rx="2"/>
<rect class="kw" x="1000" y="500.5" width="9" height="5" rx="1"/>
<path class="c" d="M1004.5 473L1004.5 508"/>
<rect class="mw" x="1067.9" y="476" width="5" height="25" rx="2"/>
<rect class="kw" x="1065.9" y="500.5" width="9" height="5" rx="1"/>
<path class="c" d="M1070.4 473L1070.4 508"/>
<rect class="kw" x="1018" y="557.7" width="38" height="20.3" rx="3"/>
<path class="m" d="M1028 557.7L1028 578"/>
<path class="m" d="M1047 557.7L1047 578"/>
<path class="m" d="M1020 578q17 8 34 0"/>
<path class="m" d="M1026 580q11 6 23 0"/>
<circle class="k" cx="1037.5" cy="568" r="0.8"/>
<path class="c" d="M955 504.5L990 504.5"/>
<text class="tx" x="1093" y="529.5" font-size="10" textLength="9.5" lengthAdjust="spacingAndGlyphs">16</text>
<path class="t" d="M1091 531L1105.5 531"/>
<path class="t" d="M1091 531L1071 503"/>
<text class="tx" x="1093" y="553.5" font-size="10" textLength="9.5" lengthAdjust="spacingAndGlyphs">14</text>
<path class="t" d="M1091 555L1105.5 555"/>
<path class="t" d="M1091 555L1062 500"/>
<text class="tx" x="1093" y="572.5" font-size="10" textLength="9.5" lengthAdjust="spacingAndGlyphs">15</text>
<path class="t" d="M1091 574L1105.5 574"/>
<path class="t" d="M1091 574L1056 512"/>
<text class="tx" x="1093" y="594" font-size="10" textLength="9.5" lengthAdjust="spacingAndGlyphs">30</text>
<path class="t" d="M1091 595.5L1105.5 595.5"/>
<path class="t" d="M1091 595.5L1052 522"/>
<text class="tx" x="1061" y="594" font-size="10" textLength="9.5" lengthAdjust="spacingAndGlyphs">13</text>
<path class="t" d="M1059 595.5L1073.5 595.5"/>
<path class="t" d="M1059 595.5L1037.5 537"/>
<text class="tx" x="962" y="593" font-size="10" textLength="9.5" lengthAdjust="spacingAndGlyphs">50</text>
<text class="tx" x="962" y="605.5" font-size="10" textLength="9.5" lengthAdjust="spacingAndGlyphs">66</text>
<text class="tx" x="962" y="618" font-size="10" textLength="9.5" lengthAdjust="spacingAndGlyphs">82</text>
<path class="t" d="M960 594.5L976 594.5"/>
<path class="t" d="M960 607L976 607"/>
<path class="t" d="M960 619.5L976 619.5"/>
<path class="t" d="M976 594.5L976 619.5"/>
<path class="t" d="M976 594.5L1004 503"/>
<text class="tx" x="989" y="593" font-size="10" textLength="9.5" lengthAdjust="spacingAndGlyphs">60</text>
<text class="tx" x="989" y="605.5" font-size="10" textLength="9.5" lengthAdjust="spacingAndGlyphs">71</text>
<path class="t" d="M987 594.5L1003 594.5"/>
<path class="t" d="M987 607L1003 607"/>
<path class="t" d="M1003 594.5L1003 607"/>
<path class="t" d="M1003 600L1037.5 568"/>
<text class="tx" x="1071" y="26" font-size="10" textLength="6" lengthAdjust="spacingAndGlyphs">7</text>
<path class="t" d="M1069 27.5L1080 27.5"/>
<path class="t" d="M1080 27.5L1155 57.5"/>
<text class="tx" x="1071" y="50" font-size="10" textLength="5" lengthAdjust="spacingAndGlyphs">1</text>
<path class="t" d="M1069 51.5L1079 51.5"/>
<path class="t" d="M1079 51.5L1147.5 92.5"/>
<text class="tx" x="1072" y="70.5" font-size="10" textLength="5" lengthAdjust="spacingAndGlyphs">8</text>
<path class="t" d="M1067.5 72.5L1082.5 72.5"/>
<path class="t" d="M1067.5 72.5L927.5 115"/>
<path class="t" d="M1067.5 72.5L955 137.5"/>
<path class="t" d="M1067.5 72.5L987.5 145"/>
<text class="tx" x="1067" y="111" font-size="10" textLength="5" lengthAdjust="spacingAndGlyphs">6</text>
<text class="tx" x="1067" y="122" font-size="10" textLength="9.5" lengthAdjust="spacingAndGlyphs">33</text>
<path class="t" d="M1065 112.5L1081 112.5"/>
<path class="t" d="M1065 123.5L1081 123.5"/>
<path class="t" d="M1081 112.5L1081 123.5"/>
<path class="t" d="M1081 112.5L1150 135"/>
<text class="tx" x="1069" y="136" font-size="10" textLength="8" lengthAdjust="spacingAndGlyphs">11</text>
<path class="t" d="M1067 137.5L1080 137.5"/>
<path class="t" d="M1080 137.5L1110 147.5"/>
<text class="tx" x="1069" y="187" font-size="10" textLength="5" lengthAdjust="spacingAndGlyphs">4</text>
<text class="tx" x="1069" y="198" font-size="10" textLength="9.5" lengthAdjust="spacingAndGlyphs">81</text>
<path class="t" d="M1065 188.5L1081 188.5"/>
<path class="t" d="M1065 199.5L1081 199.5"/>
<path class="t" d="M1081 188.5L1081 199.5"/>
<path class="t" d="M1081 188.5L1157.5 230"/>
<text class="tx" x="1071" y="217" font-size="10" textLength="6" lengthAdjust="spacingAndGlyphs">3</text>
<path class="t" d="M1069 218.5L1080 218.5"/>
<path class="t" d="M1080 218.5L1190 247.5"/>
<text class="tx" x="1071" y="241" font-size="10" textLength="5" lengthAdjust="spacingAndGlyphs">5</text>
<path class="t" d="M1067.5 243.5L1082.5 243.5"/>
<path class="t" d="M1067.5 243.5L997.5 192.5"/>
<text class="tx" x="1071" y="302" font-size="10" textLength="6" lengthAdjust="spacingAndGlyphs">2</text>
<path class="t" d="M1069 303.5L1080 303.5"/>
<path class="t" d="M1080 303.5L1200 285"/>
</g>
<g id="p26_notes">
<text class="tn" x="1160" y="438" font-size="7.4" textLength="40" lengthAdjust="spacingAndGlyphs">1. Н14, ±IT14/2.</text>
<text class="tn" x="1160" y="445.5" font-size="7.4" textLength="169" lengthAdjust="spacingAndGlyphs">2. Корпус поз.1, седло поз.4, крышку поз.6, патрубок поз.7</text>
<text class="tn" x="1143.5" y="453" font-size="7.4" textLength="185.5" lengthAdjust="spacingAndGlyphs">испытать на прочность и плотность гидравлическим давлением 0,6</text>
<text class="tn" x="1143.5" y="460.5" font-size="7.4" textLength="49.5" lengthAdjust="spacingAndGlyphs">МПа (6,0 кгс/см2).</text>
<text class="tn" x="1160" y="468" font-size="7.4" textLength="169" lengthAdjust="spacingAndGlyphs">3. Отверстие ø8 в пальце поз.13 под шплинт поз.71 сверлить</text>
<text class="tn" x="1143.5" y="475.5" font-size="7.4" textLength="30" lengthAdjust="spacingAndGlyphs">при сборке.</text>
<text class="tn" x="1160" y="483" font-size="7.4" textLength="161" lengthAdjust="spacingAndGlyphs">4. Полости подшипников заполнить консистентной смазкой.</text>
<text class="tn" x="1160" y="490.5" font-size="7.4" textLength="151" lengthAdjust="spacingAndGlyphs">5. Полость Л заполнить графито-масляной эмульсией.</text>
<text class="tn" x="1160" y="498" font-size="7.4" textLength="169" lengthAdjust="spacingAndGlyphs">6. Плотность прилегания тарелки поз.3 к седлу поз.4</text>
<text class="tn" x="1143.5" y="505.5" font-size="7.4" textLength="185.5" lengthAdjust="spacingAndGlyphs">проверить керосином при пятикратном открывании и закрывании</text>
<text class="tn" x="1143.5" y="513" font-size="7.4" textLength="120.5" lengthAdjust="spacingAndGlyphs">клапана. Пропуски керосина не допускаются.</text>
<text class="tn" x="1160" y="520.5" font-size="7.4" textLength="169" lengthAdjust="spacingAndGlyphs">7. Собранный клапан испытать пневматическим давлением 0,5</text>
<text class="tn" x="1143.5" y="528" font-size="7.4" textLength="49.5" lengthAdjust="spacingAndGlyphs">МПа (5,0 кгс/см2).</text>
<text class="tn" x="1160" y="535.5" font-size="7.4" textLength="169" lengthAdjust="spacingAndGlyphs">8. Выключатели и упор поз.8 приварить по месту обеспечив</text>
<text class="tn" x="1143.5" y="543" font-size="7.4" textLength="68.5" lengthAdjust="spacingAndGlyphs">их включение-выключение.</text>
<text class="tn" x="1160" y="550.5" font-size="7.4" textLength="140" lengthAdjust="spacingAndGlyphs">9. Стрелку поз.37 выставить на "ноль" и приварить.</text>
<text class="tn" x="1160" y="558" font-size="7.4" textLength="160" lengthAdjust="spacingAndGlyphs">10. Сборка ручная дуговая. Электроды Э42А ГОСТ 9467-75.</text>
</g>
<g id="p30_arrows">
<path d="M302.5 35.0L301.8 38.6L303.2 38.6ZM302.5 88.8L303.2 85.2L301.8 85.2ZM365.0 28.8L364.2 32.4L365.8 32.4ZM365.0 284.0L365.8 280.4L364.2 280.4ZM373.2 22.0L372.5 25.6L374.0 25.6ZM373.2 291.5L374.0 287.9L372.5 287.9ZM58.8 77.5L58.0 81.1L59.5 81.1ZM58.8 140.0L59.5 136.4L58.0 136.4ZM50.0 158.0L53.3 156.3L52.3 155.1ZM133.0 90.0L129.7 91.7L130.7 92.9ZM175.0 303.8L178.6 304.5L178.6 303.0ZM289.5 303.8L285.9 303.0L285.9 304.5ZM44.0 313.0L47.6 313.8L47.6 312.2ZM350.0 313.0L346.4 312.2L346.4 313.8ZM497.5 200.0L496.8 203.6L498.2 203.6ZM497.5 253.5L498.2 249.9L496.8 249.9ZM520.0 245.8L523.6 246.5L523.6 245.0ZM575.5 245.8L571.9 245.0L571.9 246.5ZM35.0 453.0L34.2 456.6L35.8 456.6ZM35.0 567.0L35.8 563.4L34.2 563.4ZM78.8 453.0L78.0 456.6L79.5 456.6ZM78.8 580.0L79.5 576.4L78.0 576.4ZM86.2 453.0L85.5 456.6L87.0 456.6ZM86.2 536.0L87.0 532.4L85.5 532.4ZM358.8 324.5L358.0 328.1L359.5 328.1ZM358.8 607.5L359.5 603.9L358.0 603.9ZM468.0 318.2L471.6 319.0L471.6 317.5ZM559.2 318.2L555.6 317.5L555.6 319.0ZM456.2 360.0L459.9 360.8L459.9 359.2ZM571.2 360.0L567.6 359.2L567.6 360.8ZM456.2 368.8L459.9 369.5L459.9 368.0ZM513.0 368.8L509.4 368.0L509.4 369.5ZM481.2 386.8L484.9 387.5L484.9 386.0ZM545.0 386.8L541.4 386.0L541.4 387.5ZM475.0 402.0L478.6 402.8L478.6 401.2ZM551.0 402.0L547.4 401.2L547.4 402.8ZM417.5 545.5L421.1 546.2L421.1 544.8ZM513.0 545.5L509.4 544.8L509.4 546.2ZM417.5 554.2L421.1 555.0L421.1 553.5ZM439.0 554.2L435.4 553.5L435.4 555.0ZM476.0 576.0L479.6 576.8L479.6 575.2ZM551.0 576.0L547.4 575.2L547.4 576.8ZM468.0 603.5L471.6 604.2L471.6 602.8ZM559.2 603.5L555.6 602.8L555.6 604.2ZM456.2 611.0L459.9 611.8L459.9 610.2ZM571.2 611.0L567.6 610.2L567.6 611.8ZM606.2 443.5L605.5 447.1L607.0 447.1ZM606.2 502.0L607.0 498.4L605.5 498.4ZM710.0 442.5L713.6 443.2L713.6 441.8ZM810.0 442.5L806.4 441.8L806.4 443.2ZM677.0 455.0L680.6 455.8L680.6 454.2ZM759.5 455.0L755.9 454.2L755.9 455.8ZM759.5 455.0L763.1 455.8L763.1 454.2ZM843.0 455.0L839.4 454.2L839.4 455.8ZM668.0 464.0L671.6 464.8L671.6 463.2ZM852.0 464.0L848.4 463.2L848.4 464.8ZM637.5 386.0L636.8 389.6L638.2 389.6ZM637.5 434.0L638.2 430.4L636.8 430.4ZM646.0 389.0L645.2 392.6L646.8 392.6ZM646.0 431.0L646.8 427.4L645.2 427.4ZM653.8 397.0L653.0 400.6L654.5 400.6ZM653.8 423.0L654.5 419.4L653.0 419.4ZM920.0 399.0L919.2 402.6L920.8 402.6ZM920.0 421.0L920.8 417.4L919.2 417.4ZM732.5 503.8L736.1 504.5L736.1 503.0ZM865.0 503.8L861.4 503.0L861.4 504.5ZM732.5 510.8L736.1 511.5L736.1 510.0ZM785.0 510.8L781.4 510.0L781.4 511.5ZM785.0 510.8L788.6 511.5L788.6 510.0ZM865.0 510.8L861.4 510.0L861.4 511.5ZM743.0 517.5L746.6 518.2L746.6 516.8ZM785.0 517.5L781.4 516.8L781.4 518.2ZM785.0 517.5L788.6 518.2L788.6 516.8ZM855.0 517.5L851.4 516.8L851.4 518.2ZM620.0 525.0L623.6 525.8L623.6 524.2ZM642.0 525.0L638.4 524.2L638.4 525.8ZM642.0 525.0L645.6 525.8L645.6 524.2ZM720.0 525.0L716.4 524.2L716.4 525.8ZM616.0 540.0L615.2 543.6L616.8 543.6ZM616.0 561.8L616.8 558.1L615.2 558.1ZM919.0 541.0L918.2 544.6L919.8 544.6ZM919.0 561.0L919.8 557.4L918.2 557.4ZM930.0 529.0L929.2 532.6L930.8 532.6ZM930.0 574.0L930.8 570.4L929.2 570.4ZM813.0 539.0L812.2 542.6L813.8 542.6ZM813.0 562.0L813.8 558.4L812.2 558.4ZM952.0 348.8L951.2 352.4L952.8 352.4ZM952.0 423.0L952.8 419.4L951.2 419.4ZM1195.7 383.7L1195.0 387.3L1196.5 387.3ZM1195.7 429.0L1196.5 425.4L1195.0 425.4ZM679.0 397.5L678.2 401.1L679.8 401.1ZM679.0 423.0L679.8 419.4L678.2 419.4ZM707.0 397.5L706.2 401.1L707.8 401.1ZM707.0 423.0L707.8 419.4L706.2 419.4ZM770.0 397.5L769.2 401.1L770.8 401.1ZM770.0 423.0L770.8 419.4L769.2 419.4ZM803.0 397.5L802.2 401.1L803.8 401.1ZM803.0 423.0L803.8 419.4L802.2 419.4ZM822.0 397.5L821.2 401.1L822.8 401.1ZM822.0 423.0L822.8 419.4L821.2 419.4ZM842.0 397.5L841.2 401.1L842.8 401.1ZM842.0 423.0L842.8 419.4L841.2 419.4ZM853.0 397.5L852.2 401.1L853.8 401.1ZM853.0 423.0L853.8 419.4L852.2 419.4ZM661.0 540.0L660.2 543.6L661.8 543.6ZM661.0 561.8L661.8 558.1L660.2 558.1ZM736.5 540.0L735.8 543.6L737.2 543.6ZM736.5 562.0L737.2 558.4L735.8 558.4ZM858.5 540.0L857.8 543.6L859.2 543.6ZM858.5 562.0L859.2 558.4L857.8 558.4ZM1090.6 368.0L1089.8 371.6L1091.3 371.6ZM1090.6 384.0L1091.3 380.4L1089.8 380.4ZM1090.6 384.0L1089.8 387.6L1091.3 387.6ZM1090.6 400.0L1091.3 396.4L1089.8 396.4ZM307.0 130.0L306.2 132.6L307.8 132.6ZM307.0 136.5L307.8 133.9L306.2 133.9Z" fill="#444"/>
</g>
</svg>
</body></html>
